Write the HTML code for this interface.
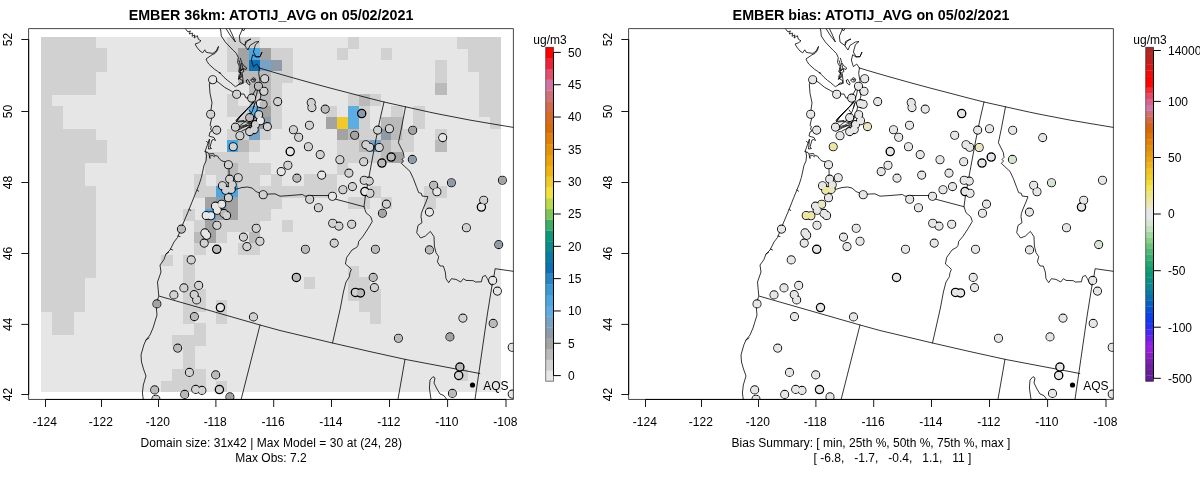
<!DOCTYPE html>
<html><head><meta charset="utf-8"><title>EMBER</title>
<style>
html,body{margin:0;padding:0;background:#fff;}
body{width:1200px;height:479px;overflow:hidden;font-family:"Liberation Sans",sans-serif;}
svg{display:block;will-change:transform;}
svg text{font-family:"Liberation Sans",sans-serif;font-size:12px;fill:#000;}
.ttl{font-size:14.3px;font-weight:bold;}
.map polyline{fill:none;stroke:#000;stroke-width:0.8;stroke-linejoin:round;stroke-linecap:round;}

</style></head><body>
<svg width="1200" height="479" viewBox="0 0 1200 479">
<defs>
<clipPath id="cl"><rect x="28.6" y="28.6" width="484.8" height="370.85"/></clipPath>
<clipPath id="cr"><rect x="628.6" y="28.6" width="484.8" height="370.85"/></clipPath>
</defs>
<rect x="0" y="0" width="1200" height="479" fill="#fff"/>
<!-- left panel -->
<g shape-rendering="crispEdges">
<rect x="41.0" y="37.0" width="460.00" height="355.00" fill="#e6e6e6"/>
<rect x="41.00" y="37.00" width="55.06" height="11.75" fill="#d1d1d1"/>
<rect x="227.19" y="37.00" width="33.16" height="11.75" fill="#d1d1d1"/>
<rect x="347.67" y="37.00" width="11.25" height="11.75" fill="#d1d1d1"/>
<rect x="457.19" y="37.00" width="43.81" height="11.75" fill="#d1d1d1"/>
<rect x="41.00" y="48.45" width="66.01" height="11.75" fill="#d1d1d1"/>
<rect x="227.19" y="48.45" width="11.25" height="11.75" fill="#d1d1d1"/>
<rect x="238.14" y="48.45" width="11.25" height="11.75" fill="#a3a3a3"/>
<rect x="249.10" y="48.45" width="11.25" height="11.75" fill="#4da6df"/>
<rect x="260.05" y="48.45" width="11.25" height="11.75" fill="#a3a3a3"/>
<rect x="271.00" y="48.45" width="22.20" height="11.75" fill="#d1d1d1"/>
<rect x="336.71" y="48.45" width="11.25" height="11.75" fill="#d1d1d1"/>
<rect x="380.52" y="48.45" width="11.25" height="11.75" fill="#d1d1d1"/>
<rect x="468.14" y="48.45" width="32.86" height="11.75" fill="#d1d1d1"/>
<rect x="41.00" y="59.90" width="66.01" height="11.75" fill="#d1d1d1"/>
<rect x="227.19" y="59.90" width="11.25" height="11.75" fill="#d1d1d1"/>
<rect x="238.14" y="59.90" width="11.25" height="11.75" fill="#a3a3a3"/>
<rect x="249.10" y="59.90" width="11.25" height="11.75" fill="#0b70b6"/>
<rect x="260.05" y="59.90" width="11.25" height="11.75" fill="#7aa2c4"/>
<rect x="271.00" y="59.90" width="11.25" height="11.75" fill="#8d9aa7"/>
<rect x="281.95" y="59.90" width="11.25" height="11.75" fill="#d1d1d1"/>
<rect x="435.29" y="59.90" width="11.25" height="11.75" fill="#d1d1d1"/>
<rect x="468.14" y="59.90" width="32.86" height="11.75" fill="#d1d1d1"/>
<rect x="41.00" y="71.35" width="55.06" height="11.75" fill="#d1d1d1"/>
<rect x="238.14" y="71.35" width="33.16" height="11.75" fill="#bababa"/>
<rect x="271.00" y="71.35" width="22.20" height="11.75" fill="#d1d1d1"/>
<rect x="435.29" y="71.35" width="11.25" height="11.75" fill="#d1d1d1"/>
<rect x="479.10" y="71.35" width="21.90" height="11.75" fill="#d1d1d1"/>
<rect x="41.00" y="82.81" width="55.06" height="11.75" fill="#d1d1d1"/>
<rect x="249.10" y="82.81" width="22.20" height="11.75" fill="#bababa"/>
<rect x="271.00" y="82.81" width="11.25" height="11.75" fill="#d1d1d1"/>
<rect x="435.29" y="82.81" width="11.25" height="11.75" fill="#bababa"/>
<rect x="479.10" y="82.81" width="21.90" height="11.75" fill="#d1d1d1"/>
<rect x="41.00" y="94.26" width="11.25" height="11.75" fill="#d1d1d1"/>
<rect x="227.19" y="94.26" width="11.25" height="11.75" fill="#d1d1d1"/>
<rect x="249.10" y="94.26" width="11.25" height="11.75" fill="#d1d1d1"/>
<rect x="260.05" y="94.26" width="11.25" height="11.75" fill="#bababa"/>
<rect x="271.00" y="94.26" width="11.25" height="11.75" fill="#d1d1d1"/>
<rect x="347.67" y="94.26" width="11.25" height="11.75" fill="#d1d1d1"/>
<rect x="358.62" y="94.26" width="11.25" height="11.75" fill="#bababa"/>
<rect x="369.57" y="94.26" width="11.25" height="11.75" fill="#d1d1d1"/>
<rect x="479.10" y="94.26" width="21.90" height="11.75" fill="#d1d1d1"/>
<rect x="41.00" y="105.71" width="22.20" height="11.75" fill="#d1d1d1"/>
<rect x="227.19" y="105.71" width="22.20" height="11.75" fill="#d1d1d1"/>
<rect x="249.10" y="105.71" width="11.25" height="11.75" fill="#5eade2"/>
<rect x="260.05" y="105.71" width="11.25" height="11.75" fill="#a3a3a3"/>
<rect x="271.00" y="105.71" width="11.25" height="11.75" fill="#d1d1d1"/>
<rect x="325.76" y="105.71" width="11.25" height="11.75" fill="#d1d1d1"/>
<rect x="347.67" y="105.71" width="11.25" height="11.75" fill="#5eade2"/>
<rect x="358.62" y="105.71" width="11.25" height="11.75" fill="#d1d1d1"/>
<rect x="391.48" y="105.71" width="11.25" height="11.75" fill="#d1d1d1"/>
<rect x="413.38" y="105.71" width="11.25" height="11.75" fill="#d1d1d1"/>
<rect x="479.10" y="105.71" width="21.90" height="11.75" fill="#d1d1d1"/>
<rect x="41.00" y="117.16" width="22.20" height="11.75" fill="#d1d1d1"/>
<rect x="238.14" y="117.16" width="11.25" height="11.75" fill="#d1d1d1"/>
<rect x="249.10" y="117.16" width="11.25" height="11.75" fill="#a3a3a3"/>
<rect x="260.05" y="117.16" width="11.25" height="11.75" fill="#8d9aa7"/>
<rect x="271.00" y="117.16" width="11.25" height="11.75" fill="#d1d1d1"/>
<rect x="325.76" y="117.16" width="11.25" height="11.75" fill="#a3a3a3"/>
<rect x="336.71" y="117.16" width="11.25" height="11.75" fill="#f0c92a"/>
<rect x="347.67" y="117.16" width="11.25" height="11.75" fill="#5eade2"/>
<rect x="358.62" y="117.16" width="11.25" height="11.75" fill="#d1d1d1"/>
<rect x="380.52" y="117.16" width="22.20" height="11.75" fill="#bababa"/>
<rect x="413.38" y="117.16" width="11.25" height="11.75" fill="#d1d1d1"/>
<rect x="490.05" y="117.16" width="10.95" height="11.75" fill="#d1d1d1"/>
<rect x="41.00" y="128.61" width="55.06" height="11.75" fill="#d1d1d1"/>
<rect x="227.19" y="128.61" width="22.20" height="11.75" fill="#d1d1d1"/>
<rect x="249.10" y="128.61" width="11.25" height="11.75" fill="#7aa2c4"/>
<rect x="260.05" y="128.61" width="11.25" height="11.75" fill="#d1d1d1"/>
<rect x="336.71" y="128.61" width="11.25" height="11.75" fill="#a3a3a3"/>
<rect x="347.67" y="128.61" width="11.25" height="11.75" fill="#bababa"/>
<rect x="358.62" y="128.61" width="22.20" height="11.75" fill="#d1d1d1"/>
<rect x="380.52" y="128.61" width="11.25" height="11.75" fill="#8d9aa7"/>
<rect x="391.48" y="128.61" width="11.25" height="11.75" fill="#bababa"/>
<rect x="402.43" y="128.61" width="11.25" height="11.75" fill="#d1d1d1"/>
<rect x="435.29" y="128.61" width="11.25" height="11.75" fill="#d1d1d1"/>
<rect x="41.00" y="140.06" width="66.01" height="11.75" fill="#d1d1d1"/>
<rect x="227.19" y="140.06" width="11.25" height="11.75" fill="#4da6df"/>
<rect x="238.14" y="140.06" width="11.25" height="11.75" fill="#bababa"/>
<rect x="249.10" y="140.06" width="11.25" height="11.75" fill="#d1d1d1"/>
<rect x="336.71" y="140.06" width="22.20" height="11.75" fill="#d1d1d1"/>
<rect x="358.62" y="140.06" width="11.25" height="11.75" fill="#bababa"/>
<rect x="369.57" y="140.06" width="11.25" height="11.75" fill="#7aa2c4"/>
<rect x="380.52" y="140.06" width="11.25" height="11.75" fill="#bababa"/>
<rect x="391.48" y="140.06" width="22.20" height="11.75" fill="#d1d1d1"/>
<rect x="435.29" y="140.06" width="11.25" height="11.75" fill="#bababa"/>
<rect x="41.00" y="151.52" width="66.01" height="11.75" fill="#d1d1d1"/>
<rect x="205.29" y="151.52" width="44.11" height="11.75" fill="#d1d1d1"/>
<rect x="336.71" y="151.52" width="44.11" height="11.75" fill="#d1d1d1"/>
<rect x="380.52" y="151.52" width="11.25" height="11.75" fill="#bababa"/>
<rect x="391.48" y="151.52" width="11.25" height="11.75" fill="#a3a3a3"/>
<rect x="41.00" y="162.97" width="44.11" height="11.75" fill="#d1d1d1"/>
<rect x="205.29" y="162.97" width="22.20" height="11.75" fill="#d1d1d1"/>
<rect x="227.19" y="162.97" width="11.25" height="11.75" fill="#bababa"/>
<rect x="238.14" y="162.97" width="33.16" height="11.75" fill="#d1d1d1"/>
<rect x="336.71" y="162.97" width="11.25" height="11.75" fill="#d1d1d1"/>
<rect x="41.00" y="174.42" width="44.11" height="11.75" fill="#d1d1d1"/>
<rect x="194.33" y="174.42" width="11.25" height="11.75" fill="#d1d1d1"/>
<rect x="216.24" y="174.42" width="11.25" height="11.75" fill="#d1d1d1"/>
<rect x="227.19" y="174.42" width="11.25" height="11.75" fill="#bababa"/>
<rect x="238.14" y="174.42" width="22.20" height="11.75" fill="#d1d1d1"/>
<rect x="271.00" y="174.42" width="11.25" height="11.75" fill="#d1d1d1"/>
<rect x="303.86" y="174.42" width="33.16" height="11.75" fill="#d1d1d1"/>
<rect x="41.00" y="185.87" width="55.06" height="11.75" fill="#d1d1d1"/>
<rect x="194.33" y="185.87" width="22.20" height="11.75" fill="#d1d1d1"/>
<rect x="216.24" y="185.87" width="22.20" height="11.75" fill="#4da6df"/>
<rect x="238.14" y="185.87" width="98.87" height="11.75" fill="#d1d1d1"/>
<rect x="369.57" y="185.87" width="11.25" height="11.75" fill="#d1d1d1"/>
<rect x="424.33" y="185.87" width="22.20" height="11.75" fill="#d1d1d1"/>
<rect x="41.00" y="197.32" width="55.06" height="11.75" fill="#d1d1d1"/>
<rect x="205.29" y="197.32" width="11.25" height="11.75" fill="#a3a3a3"/>
<rect x="216.24" y="197.32" width="11.25" height="11.75" fill="#8d9aa7"/>
<rect x="227.19" y="197.32" width="11.25" height="11.75" fill="#a3a3a3"/>
<rect x="238.14" y="197.32" width="44.11" height="11.75" fill="#d1d1d1"/>
<rect x="347.67" y="197.32" width="22.20" height="11.75" fill="#d1d1d1"/>
<rect x="380.52" y="197.32" width="11.25" height="11.75" fill="#d1d1d1"/>
<rect x="424.33" y="197.32" width="11.25" height="11.75" fill="#d1d1d1"/>
<rect x="41.00" y="208.77" width="55.06" height="11.75" fill="#d1d1d1"/>
<rect x="183.38" y="208.77" width="11.25" height="11.75" fill="#d1d1d1"/>
<rect x="205.29" y="208.77" width="11.25" height="11.75" fill="#4da6df"/>
<rect x="216.24" y="208.77" width="22.20" height="11.75" fill="#a3a3a3"/>
<rect x="238.14" y="208.77" width="33.16" height="11.75" fill="#d1d1d1"/>
<rect x="41.00" y="220.23" width="55.06" height="11.75" fill="#d1d1d1"/>
<rect x="194.33" y="220.23" width="11.25" height="11.75" fill="#d1d1d1"/>
<rect x="205.29" y="220.23" width="11.25" height="11.75" fill="#a3a3a3"/>
<rect x="216.24" y="220.23" width="44.11" height="11.75" fill="#d1d1d1"/>
<rect x="281.95" y="220.23" width="11.25" height="11.75" fill="#d1d1d1"/>
<rect x="41.00" y="231.68" width="55.06" height="11.75" fill="#d1d1d1"/>
<rect x="194.33" y="231.68" width="11.25" height="11.75" fill="#bababa"/>
<rect x="205.29" y="231.68" width="11.25" height="11.75" fill="#a3a3a3"/>
<rect x="216.24" y="231.68" width="11.25" height="11.75" fill="#d1d1d1"/>
<rect x="249.10" y="231.68" width="11.25" height="11.75" fill="#bababa"/>
<rect x="41.00" y="243.13" width="55.06" height="11.75" fill="#d1d1d1"/>
<rect x="194.33" y="243.13" width="11.25" height="11.75" fill="#d1d1d1"/>
<rect x="238.14" y="243.13" width="22.20" height="11.75" fill="#d1d1d1"/>
<rect x="41.00" y="254.58" width="55.06" height="11.75" fill="#d1d1d1"/>
<rect x="161.48" y="254.58" width="11.25" height="11.75" fill="#d1d1d1"/>
<rect x="183.38" y="254.58" width="11.25" height="11.75" fill="#d1d1d1"/>
<rect x="41.00" y="266.03" width="55.06" height="11.75" fill="#d1d1d1"/>
<rect x="183.38" y="266.03" width="11.25" height="11.75" fill="#d1d1d1"/>
<rect x="347.67" y="266.03" width="11.25" height="11.75" fill="#d1d1d1"/>
<rect x="41.00" y="277.48" width="44.11" height="11.75" fill="#d1d1d1"/>
<rect x="183.38" y="277.48" width="11.25" height="11.75" fill="#d1d1d1"/>
<rect x="303.86" y="277.48" width="11.25" height="11.75" fill="#d1d1d1"/>
<rect x="347.67" y="277.48" width="22.20" height="11.75" fill="#d1d1d1"/>
<rect x="41.00" y="288.94" width="44.11" height="11.75" fill="#d1d1d1"/>
<rect x="183.38" y="288.94" width="22.20" height="11.75" fill="#d1d1d1"/>
<rect x="347.67" y="288.94" width="33.16" height="11.75" fill="#d1d1d1"/>
<rect x="41.00" y="300.39" width="44.11" height="11.75" fill="#d1d1d1"/>
<rect x="183.38" y="300.39" width="22.20" height="11.75" fill="#d1d1d1"/>
<rect x="216.24" y="300.39" width="11.25" height="11.75" fill="#d1d1d1"/>
<rect x="358.62" y="300.39" width="22.20" height="11.75" fill="#d1d1d1"/>
<rect x="51.95" y="311.84" width="22.20" height="11.75" fill="#d1d1d1"/>
<rect x="183.38" y="311.84" width="11.25" height="11.75" fill="#d1d1d1"/>
<rect x="216.24" y="311.84" width="11.25" height="11.75" fill="#d1d1d1"/>
<rect x="369.57" y="311.84" width="11.25" height="11.75" fill="#d1d1d1"/>
<rect x="51.95" y="323.29" width="22.20" height="11.75" fill="#d1d1d1"/>
<rect x="194.33" y="323.29" width="11.25" height="11.75" fill="#d1d1d1"/>
<rect x="172.43" y="334.74" width="33.16" height="11.75" fill="#d1d1d1"/>
<rect x="183.38" y="346.19" width="11.25" height="11.75" fill="#d1d1d1"/>
<rect x="183.38" y="357.65" width="11.25" height="11.75" fill="#d1d1d1"/>
<rect x="172.43" y="369.10" width="33.16" height="11.75" fill="#d1d1d1"/>
<rect x="457.19" y="369.10" width="11.25" height="11.75" fill="#d1d1d1"/>
<rect x="161.48" y="380.55" width="44.11" height="11.45" fill="#d1d1d1"/>
<rect x="216.24" y="380.55" width="11.25" height="11.45" fill="#d1d1d1"/>
</g>
<g clip-path="url(#cl)">
<g class="map"><polyline points="259.4,68.0 275.0,72.7 290.0,77.0 310.0,82.6 330.0,88.0 350.0,93.2 367.0,97.7 384.0,102.0 405.5,106.8 429.8,112.2 440.0,114.3 455.0,117.2 470.0,120.1 490.0,123.5 514.0,127.5"/>
<polyline points="384.0,102.0 380.0,119.4 375.8,140.0 365.4,196.0"/>
<polyline points="228.0,164.5 229.0,169.4 229.2,178.0 230.0,184.0 232.0,188.5 236.2,189.2 242.0,187.5 247.5,187.0 252.0,188.0 256.0,191.5 262.8,194.5 270.0,194.0 275.0,193.8 280.0,196.2 290.0,195.5 302.5,194.5 305.0,196.2 312.0,195.5 330.0,195.5 333.0,197.0 336.0,199.3 364.0,206.7"/>
<polyline points="365.4,196.0 364.0,206.7 366.0,212.7 370.7,216.7 372.3,221.4 368.0,228.7 362.7,236.7 358.7,241.4 358.0,245.4 356.7,247.3 352.0,250.0 346.7,257.4 345.4,264.0 348.7,266.7 351.4,269.4 350.0,272.7 349.4,276.7 346.0,282.0 343.4,292.0 340.4,308.0 332.5,343.0"/>
<polyline points="405.5,106.8 401.5,127.9 398.4,142.7 403.4,152.7 404.0,157.4 402.0,159.4 403.6,161.0 401.3,163.3 410.0,171.4 413.4,178.7 416.7,187.4 418.7,192.7 421.4,193.4 422.0,196.0 428.0,196.7 426.0,202.0 423.4,208.0 421.4,213.4 421.0,216.7 422.0,222.7 418.0,225.4 416.7,232.7 420.7,238.0 425.4,236.0 430.4,231.4 434.0,236.7 434.4,246.0 436.0,252.7 438.7,256.7 437.4,261.8 440.0,266.0 443.3,266.0 445.3,272.0 446.0,278.7 448.7,282.7 451.4,278.7 456.0,279.4 460.7,282.0 463.4,278.7 466.0,280.4 473.4,280.7 475.4,282.0 481.4,281.8 482.7,276.7 485.4,275.4 487.4,278.7 490.0,284.0 492.0,285.4"/>
<polyline points="514.0,271.4 495.1,268.7 494.0,276.0 492.0,285.4 487.4,314.0 475.0,399.5"/>
<polyline points="159.5,296.2 200.0,307.8 260.0,325.0 280.0,330.5 332.5,343.0 370.0,351.6 405.3,359.4 479.8,373.5"/>
<polyline points="260.0,325.0 241.2,399.2"/>
<polyline points="405.0,359.2 398.0,399.2"/>
<polyline points="431.0,399.3 429.4,388.0 430.0,380.0 433.0,376.6 435.0,378.0 434.0,383.0 437.0,389.0 440.0,394.0 444.0,395.6 446.6,399.3"/>
<polyline points="212.7,79.6 209.3,84.0 210.0,93.4 212.0,102.7 210.4,114.0 211.5,119.0 210.0,125.5 211.5,126.5 210.5,129.0 212.0,131.0 210.0,132.0 209.0,136.0 212.0,137.0 214.0,137.5 215.5,140.5 213.5,139.5 212.0,140.0 210.0,147.0 211.5,148.5 208.5,149.0 209.5,139.0 207.0,146.0 205.0,151.5 206.0,152.0 206.5,156.0 206.0,161.0 204.0,165.4 201.4,177.4 199.3,184.0 193.8,197.5 188.0,212.0 182.5,225.0 177.5,237.5 174.0,242.0 170.0,250.0 166.0,254.0 163.8,259.8 160.0,265.0 161.0,272.0 157.5,282.0 158.8,296.2 156.0,304.0 157.0,315.0 153.0,328.0 150.0,335.0 146.0,340.0 143.8,345.0 141.0,355.0 141.5,362.0 143.5,369.0 146.0,376.0 143.3,385.0 142.4,393.0 143.3,399.5"/>
<polyline points="205.0,151.5 208.0,152.5 209.0,154.0 213.5,153.5 214.5,155.5 217.5,156.0 219.5,159.0 222.0,161.0 226.0,162.0 228.0,164.5"/>
<polyline points="209.0,154.5 210.0,158.5 209.6,156.0 212.5,155.5 214.5,156.8"/>
<polyline points="212.7,79.6 218.0,82.0 224.7,87.4 230.7,90.7 236.3,94.0 244.0,94.0 246.0,98.0 251.4,98.0 253.4,101.4 250.0,106.0 245.0,111.0 240.0,116.0 236.0,120.5"/>
<polyline points="248.0,108.0 243.0,113.5 239.0,118.0 236.7,121.0"/>
<polyline points="256.0,101.0 254.0,106.0 252.0,112.0 249.0,116.0 246.0,121.0 242.0,124.0 238.0,127.0"/>
<polyline points="258.0,104.0 257.0,110.0 255.0,116.0 253.0,121.0 250.0,126.0 246.0,129.0 242.0,131.0"/>
<polyline points="238.0,122.0 244.0,121.5 249.0,122.5 252.0,120.0"/>
<polyline points="240.0,128.0 246.0,125.5 251.0,126.0"/>
<polyline points="259.4,68.0 258.7,73.4 260.0,81.4 259.0,88.0 261.0,96.0 259.0,102.0"/>
<polyline points="185.3,28.5 188.0,32.0 190.4,30.9 189.3,34.0 192.7,33.1 192.0,36.3 195.0,34.9 194.0,38.0 197.4,35.7 198.3,39.2 201.0,40.8 198.7,42.7 195.1,44.0 196.7,47.0 200.0,51.0 202.7,52.8 204.8,49.8 206.2,52.3 208.8,52.8 212.8,53.4 216.0,51.2 218.5,46.4 217.5,50.4 215.0,53.4 212.0,54.8 206.0,59.0 207.1,61.4 208.7,64.0 212.0,67.0 214.7,69.4 217.7,71.4 220.1,73.4 219.5,72.1 221.4,74.5 224.1,77.4 227.4,80.3 230.7,82.7 233.4,85.1 235.4,86.7 238.7,84.7 242.1,83.7 242.8,80.7 239.5,78.7 238.7,76.1 240.7,73.4 239.8,70.7 242.8,69.4"/>
<polyline points="220.0,28.5 220.7,30.0 221.3,36.0 225.3,42.0 229.0,46.0 233.3,50.4 236.3,53.3 238.3,57.5 237.5,62.5 240.0,66.7 238.8,71.7 240.8,74.2 238.3,79.2 240.5,78.0 242.5,75.5 243.3,83.3 240.0,82.9 237.9,85.0"/>
<polyline points="240.4,58.3 241.7,62.5 243.8,65.8 246.7,67.9 245.8,69.6 243.3,68.3 243.8,71.7 241.7,72.5 242.5,75.0 240.4,76.7 238.8,79.2"/>
<polyline points="239.2,60.8 240.8,66.7 240.0,71.7 241.3,75.0"/>
<polyline points="241.5,63.5 242.6,67.2 241.5,70.5"/>
<polyline points="226.0,28.5 230.0,35.0 235.4,42.0 232.0,34.0 229.3,28.5"/>
<polyline points="242.7,28.5 239.4,36.0 240.0,42.0 244.7,45.4 246.5,42.0 248.7,40.0 251.0,39.0 245.5,41.5 245.0,46.0 248.0,50.0 250.0,45.4 255.4,42.0 259.0,41.5 255.4,44.7 253.4,52.0 256.0,56.7 260.0,56.7 262.0,52.0 260.0,56.7 256.0,57.0 252.7,54.7 251.4,60.0 252.5,64.0 253.4,66.7 256.7,64.0 259.4,68.0"/>
<polyline points="241.5,28.5 243.5,31.0 245.0,28.5"/>
<polyline points="246.3,80.8 247.5,79.2 250.0,83.3 249.6,85.0 247.1,83.3 246.3,80.8"/>
<polyline points="250.8,80.0 253.3,77.5 255.8,79.2 255.0,81.7 252.5,82.1 250.8,80.0"/>
<polyline points="252.8,79.4 254.3,79.0 254.0,80.6 252.8,79.4"/>
<polyline points="166.0,254.0 168.5,252.5"/>
<polyline points="146.0,340.0 149.0,338.0"/>
<polyline points="206.5,141.5 208.5,143.0"/>
<polyline points="254.3,101.8 251.0,105.5 246.0,110.5 241.0,115.5 236.5,120.0"/>
<polyline points="253.0,103.0 248.5,107.5 243.5,113.0 239.5,117.5 236.5,121.5"/>
<polyline points="236.5,121.5 240.0,121.0 244.0,120.5"/>
<polyline points="240.0,126.5 244.0,125.5 248.0,123.5 252.0,122.5"/>
<polyline points="238.5,130.0 243.0,127.5 247.0,126.0 250.5,123.5 253.5,123.0"/>
<polyline points="251.5,98.0 253.0,94.0 255.5,90.0 256.5,86.0"/>
<polyline points="255.0,99.0 256.5,95.0 257.5,90.0"/>
<polyline points="252.5,100.0 254.5,104.0 253.5,108.0"/>
<polyline points="249.0,110.0 251.0,112.5 250.0,115.0"/>
<polyline points="197.0,190.0 198.6,191.2"/>
<polyline points="189.0,209.5 190.8,210.4"/>
<polyline points="178.0,236.0 180.0,236.6"/>
<polyline points="170.5,249.0 172.5,250.0"/></g>
<g class="pts"><circle cx="212.7" cy="79.8" r="4.0" fill="none" stroke="#000" stroke-opacity="0.9" stroke-width="1.1"/>
<circle cx="236.7" cy="94.3" r="4.0" fill="none" stroke="#000" stroke-opacity="0.9" stroke-width="1.1"/>
<circle cx="210.7" cy="114.3" r="4.0" fill="none" stroke="#000" stroke-opacity="0.9" stroke-width="1.1"/>
<circle cx="264.7" cy="78.8" r="4.0" fill="none" stroke="#000" stroke-opacity="0.9" stroke-width="1.1"/>
<circle cx="258.4" cy="86.3" r="4.0" fill="none" stroke="#000" stroke-opacity="0.9" stroke-width="1.1"/>
<circle cx="263.9" cy="91.3" r="4.0" fill="none" stroke="#000" stroke-opacity="0.9" stroke-width="1.1"/>
<circle cx="251.7" cy="98.1" r="4.0" fill="none" stroke="#000" stroke-opacity="0.9" stroke-width="1.1"/>
<circle cx="260.4" cy="103.6" r="4.0" fill="none" stroke="#000" stroke-opacity="0.9" stroke-width="1.1"/>
<circle cx="263.1" cy="104.3" r="4.0" fill="none" stroke="#000" stroke-opacity="0.9" stroke-width="1.1"/>
<circle cx="277.7" cy="101.6" r="4.0" fill="none" stroke="#000" stroke-opacity="0.9" stroke-width="1.1"/>
<circle cx="258.7" cy="114.8" r="4.0" fill="none" stroke="#000" stroke-opacity="0.9" stroke-width="1.1"/>
<circle cx="249.7" cy="117.6" r="4.0" fill="none" stroke="#000" stroke-opacity="0.9" stroke-width="1.1"/>
<circle cx="260.4" cy="120.8" r="4.0" fill="none" stroke="#000" stroke-opacity="0.9" stroke-width="1.1"/>
<circle cx="255.4" cy="124.6" r="4.0" fill="none" stroke="#000" stroke-opacity="0.9" stroke-width="1.1"/>
<circle cx="235.4" cy="127.1" r="4.0" fill="none" stroke="#000" stroke-opacity="0.9" stroke-width="1.1"/>
<circle cx="216.7" cy="130.1" r="4.0" fill="none" stroke="#000" stroke-opacity="0.9" stroke-width="1.1"/>
<circle cx="249.7" cy="131.6" r="4.0" fill="none" stroke="#000" stroke-opacity="0.9" stroke-width="1.1"/>
<circle cx="254.2" cy="129.6" r="4.0" fill="none" stroke="#000" stroke-opacity="0.9" stroke-width="1.1"/>
<circle cx="239.9" cy="135.8" r="4.0" fill="none" stroke="#000" stroke-opacity="0.9" stroke-width="1.1"/>
<circle cx="267.4" cy="126.6" r="4.0" fill="none" stroke="#000" stroke-opacity="0.9" stroke-width="1.1"/>
<circle cx="233.2" cy="146.8" r="4.0" fill="none" stroke="#000" stroke-opacity="0.9" stroke-width="1.1"/>
<circle cx="311.2" cy="102.6" r="4.0" fill="none" stroke="#000" stroke-opacity="0.9" stroke-width="1.1"/>
<circle cx="311.9" cy="107.6" r="4.0" fill="none" stroke="#000" stroke-opacity="0.9" stroke-width="1.1"/>
<circle cx="325.2" cy="109.1" r="4.0" fill="none" stroke="#000" stroke-opacity="0.9" stroke-width="1.1"/>
<circle cx="361.7" cy="113.6" r="4.0" fill="none" stroke="#000" stroke-width="1.5"/>
<circle cx="309.4" cy="125.3" r="4.0" fill="none" stroke="#000" stroke-opacity="0.9" stroke-width="1.1"/>
<circle cx="293.4" cy="129.8" r="4.0" fill="none" stroke="#000" stroke-opacity="0.9" stroke-width="1.1"/>
<circle cx="298.7" cy="137.3" r="4.0" fill="none" stroke="#000" stroke-opacity="0.9" stroke-width="1.1"/>
<circle cx="308.4" cy="146.8" r="4.0" fill="none" stroke="#000" stroke-opacity="0.9" stroke-width="1.1"/>
<circle cx="354.7" cy="135.3" r="4.0" fill="none" stroke="#000" stroke-opacity="0.9" stroke-width="1.1"/>
<circle cx="377.7" cy="130.1" r="4.0" fill="none" stroke="#000" stroke-opacity="0.9" stroke-width="1.1"/>
<circle cx="389.4" cy="128.8" r="4.0" fill="none" stroke="#000" stroke-opacity="0.9" stroke-width="1.1"/>
<circle cx="412.7" cy="130.3" r="4.0" fill="none" stroke="#000" stroke-opacity="0.9" stroke-width="1.1"/>
<circle cx="365.9" cy="144.8" r="4.0" fill="none" stroke="#000" stroke-opacity="0.9" stroke-width="1.1"/>
<circle cx="369.7" cy="147.3" r="4.0" fill="none" stroke="#000" stroke-opacity="0.9" stroke-width="1.1"/>
<circle cx="379.2" cy="147.5" r="4.0" fill="none" stroke="#000" stroke-opacity="0.9" stroke-width="1.1"/>
<circle cx="442.7" cy="137.6" r="4.0" fill="none" stroke="#000" stroke-opacity="0.9" stroke-width="1.1"/>
<circle cx="228.4" cy="164.8" r="4.0" fill="none" stroke="#000" stroke-opacity="0.9" stroke-width="1.1"/>
<circle cx="238.2" cy="177.8" r="4.0" fill="none" stroke="#000" stroke-opacity="0.9" stroke-width="1.1"/>
<circle cx="229.7" cy="179.1" r="4.0" fill="none" stroke="#000" stroke-opacity="0.9" stroke-width="1.1"/>
<circle cx="222.4" cy="185.8" r="4.0" fill="none" stroke="#000" stroke-opacity="0.9" stroke-width="1.1"/>
<circle cx="232.2" cy="184.8" r="4.0" fill="none" stroke="#000" stroke-opacity="0.9" stroke-width="1.1"/>
<circle cx="231.2" cy="189.4" r="4.0" fill="none" stroke="#000" stroke-opacity="0.9" stroke-width="1.1"/>
<circle cx="225.7" cy="190.3" r="4.0" fill="none" stroke="#000" stroke-opacity="0.9" stroke-width="1.1"/>
<circle cx="228.4" cy="197.8" r="4.0" fill="none" stroke="#000" stroke-opacity="0.9" stroke-width="1.1"/>
<circle cx="263.2" cy="194.8" r="4.0" fill="none" stroke="#000" stroke-opacity="0.9" stroke-width="1.1"/>
<circle cx="290.2" cy="151.6" r="4.0" fill="none" stroke="#000" stroke-width="1.5"/>
<circle cx="287.9" cy="165.3" r="4.0" fill="none" stroke="#000" stroke-opacity="0.9" stroke-width="1.1"/>
<circle cx="281.2" cy="171.6" r="4.0" fill="none" stroke="#000" stroke-opacity="0.9" stroke-width="1.1"/>
<circle cx="221.7" cy="204.3" r="4.0" fill="none" stroke="#000" stroke-opacity="0.9" stroke-width="1.1"/>
<circle cx="215.4" cy="206.1" r="4.0" fill="none" stroke="#000" stroke-opacity="0.9" stroke-width="1.1"/>
<circle cx="217.2" cy="210.3" r="4.0" fill="none" stroke="#000" stroke-opacity="0.9" stroke-width="1.1"/>
<circle cx="223.9" cy="213.4" r="4.0" fill="none" stroke="#000" stroke-opacity="0.9" stroke-width="1.1"/>
<circle cx="226.6" cy="215.5" r="4.0" fill="none" stroke="#000" stroke-opacity="0.9" stroke-width="1.1"/>
<circle cx="206.2" cy="215.5" r="4.0" fill="none" stroke="#000" stroke-opacity="0.9" stroke-width="1.1"/>
<circle cx="210.8" cy="215.8" r="4.0" fill="none" stroke="#000" stroke-opacity="0.9" stroke-width="1.1"/>
<circle cx="216.9" cy="225.3" r="4.0" fill="none" stroke="#000" stroke-opacity="0.9" stroke-width="1.1"/>
<circle cx="256.2" cy="228.3" r="4.0" fill="none" stroke="#000" stroke-opacity="0.9" stroke-width="1.1"/>
<circle cx="181.4" cy="229.1" r="4.0" fill="none" stroke="#000" stroke-opacity="0.9" stroke-width="1.1"/>
<circle cx="204.9" cy="232.9" r="4.0" fill="none" stroke="#000" stroke-opacity="0.9" stroke-width="1.1"/>
<circle cx="206.7" cy="235.2" r="4.0" fill="none" stroke="#000" stroke-opacity="0.9" stroke-width="1.1"/>
<circle cx="243.4" cy="237.1" r="4.0" fill="none" stroke="#000" stroke-opacity="0.9" stroke-width="1.1"/>
<circle cx="259.9" cy="241.3" r="4.0" fill="none" stroke="#000" stroke-opacity="0.9" stroke-width="1.1"/>
<circle cx="204.2" cy="243.1" r="4.0" fill="none" stroke="#000" stroke-opacity="0.9" stroke-width="1.1"/>
<circle cx="246.9" cy="246.6" r="4.0" fill="none" stroke="#000" stroke-opacity="0.9" stroke-width="1.1"/>
<circle cx="216.7" cy="249.3" r="4.0" fill="none" stroke="#000" stroke-width="1.5"/>
<circle cx="191.2" cy="259.9" r="4.0" fill="none" stroke="#000" stroke-opacity="0.9" stroke-width="1.1"/>
<circle cx="320.2" cy="154.6" r="4.0" fill="none" stroke="#000" stroke-opacity="0.9" stroke-width="1.1"/>
<circle cx="296.9" cy="178.1" r="4.0" fill="none" stroke="#000" stroke-opacity="0.9" stroke-width="1.1"/>
<circle cx="321.7" cy="175.1" r="4.0" fill="none" stroke="#000" stroke-opacity="0.9" stroke-width="1.1"/>
<circle cx="339.9" cy="159.8" r="4.0" fill="none" stroke="#000" stroke-opacity="0.9" stroke-width="1.1"/>
<circle cx="348.9" cy="173.1" r="4.0" fill="none" stroke="#000" stroke-opacity="0.9" stroke-width="1.1"/>
<circle cx="352.4" cy="186.6" r="4.0" fill="none" stroke="#000" stroke-opacity="0.9" stroke-width="1.1"/>
<circle cx="342.9" cy="189.8" r="4.0" fill="none" stroke="#000" stroke-opacity="0.9" stroke-width="1.1"/>
<circle cx="332.4" cy="196.3" r="4.0" fill="none" stroke="#000" stroke-opacity="0.9" stroke-width="1.1"/>
<circle cx="309.7" cy="199.3" r="4.0" fill="none" stroke="#000" stroke-opacity="0.9" stroke-width="1.1"/>
<circle cx="318.4" cy="207.8" r="4.0" fill="none" stroke="#000" stroke-opacity="0.9" stroke-width="1.1"/>
<circle cx="332.7" cy="223.3" r="4.0" fill="none" stroke="#000" stroke-opacity="0.9" stroke-width="1.1"/>
<circle cx="338.9" cy="226.1" r="4.0" fill="none" stroke="#000" stroke-opacity="0.9" stroke-width="1.1"/>
<circle cx="351.7" cy="224.3" r="4.0" fill="none" stroke="#000" stroke-opacity="0.9" stroke-width="1.1"/>
<circle cx="334.2" cy="243.1" r="4.0" fill="none" stroke="#000" stroke-opacity="0.9" stroke-width="1.1"/>
<circle cx="305.4" cy="249.3" r="4.0" fill="none" stroke="#000" stroke-opacity="0.9" stroke-width="1.1"/>
<circle cx="363.7" cy="161.8" r="4.0" fill="none" stroke="#000" stroke-opacity="0.9" stroke-width="1.1"/>
<circle cx="381.9" cy="163.1" r="4.0" fill="none" stroke="#000" stroke-width="1.5"/>
<circle cx="391.2" cy="157.1" r="4.0" fill="none" stroke="#000" stroke-width="1.5"/>
<circle cx="412.3" cy="159.4" r="4.0" fill="none" stroke="#000" stroke-opacity="0.9" stroke-width="1.1"/>
<circle cx="364.2" cy="180.3" r="4.0" fill="none" stroke="#000" stroke-opacity="0.9" stroke-width="1.1"/>
<circle cx="369.2" cy="181.1" r="4.0" fill="none" stroke="#000" stroke-opacity="0.9" stroke-width="1.1"/>
<circle cx="364.9" cy="191.6" r="4.0" fill="none" stroke="#000" stroke-width="1.5"/>
<circle cx="369.9" cy="193.3" r="4.0" fill="none" stroke="#000" stroke-opacity="0.9" stroke-width="1.1"/>
<circle cx="386.4" cy="204.1" r="4.0" fill="none" stroke="#000" stroke-opacity="0.9" stroke-width="1.1"/>
<circle cx="382.4" cy="213.3" r="4.0" fill="none" stroke="#000" stroke-opacity="0.9" stroke-width="1.1"/>
<circle cx="375.4" cy="249.2" r="4.0" fill="none" stroke="#000" stroke-opacity="0.9" stroke-width="1.1"/>
<circle cx="429.4" cy="212.1" r="4.0" fill="none" stroke="#000" stroke-opacity="0.9" stroke-width="1.1"/>
<circle cx="429.4" cy="249.9" r="4.0" fill="none" stroke="#000" stroke-opacity="0.9" stroke-width="1.1"/>
<circle cx="433.7" cy="185.3" r="4.0" fill="none" stroke="#000" stroke-opacity="0.9" stroke-width="1.1"/>
<circle cx="436.9" cy="191.8" r="4.0" fill="none" stroke="#000" stroke-opacity="0.9" stroke-width="1.1"/>
<circle cx="451.4" cy="182.8" r="4.0" fill="none" stroke="#000" stroke-opacity="0.9" stroke-width="1.1"/>
<circle cx="502.4" cy="180.3" r="4.0" fill="none" stroke="#000" stroke-opacity="0.9" stroke-width="1.1"/>
<circle cx="483.7" cy="200.3" r="4.0" fill="none" stroke="#000" stroke-opacity="0.9" stroke-width="1.1"/>
<circle cx="481.4" cy="207.1" r="4.0" fill="none" stroke="#000" stroke-width="1.5"/>
<circle cx="466.4" cy="227.8" r="4.0" fill="none" stroke="#000" stroke-opacity="0.9" stroke-width="1.1"/>
<circle cx="498.7" cy="244.6" r="4.0" fill="none" stroke="#000" stroke-opacity="0.9" stroke-width="1.1"/>
<circle cx="198.7" cy="285.4" r="4.0" fill="none" stroke="#000" stroke-opacity="0.9" stroke-width="1.1"/>
<circle cx="183.9" cy="287.9" r="4.0" fill="none" stroke="#000" stroke-opacity="0.9" stroke-width="1.1"/>
<circle cx="173.9" cy="294.9" r="4.0" fill="none" stroke="#000" stroke-opacity="0.9" stroke-width="1.1"/>
<circle cx="194.2" cy="294.6" r="4.0" fill="none" stroke="#000" stroke-opacity="0.9" stroke-width="1.1"/>
<circle cx="196.7" cy="299.9" r="4.0" fill="none" stroke="#000" stroke-opacity="0.9" stroke-width="1.1"/>
<circle cx="156.9" cy="303.9" r="4.0" fill="none" stroke="#000" stroke-opacity="0.9" stroke-width="1.1"/>
<circle cx="220.4" cy="307.6" r="4.0" fill="none" stroke="#000" stroke-width="1.5"/>
<circle cx="194.4" cy="316.6" r="4.0" fill="none" stroke="#000" stroke-opacity="0.9" stroke-width="1.1"/>
<circle cx="253.4" cy="316.9" r="4.0" fill="none" stroke="#000" stroke-opacity="0.9" stroke-width="1.1"/>
<circle cx="177.7" cy="348.1" r="4.0" fill="none" stroke="#000" stroke-opacity="0.9" stroke-width="1.1"/>
<circle cx="296.4" cy="277.4" r="4.0" fill="none" stroke="#000" stroke-width="1.5"/>
<circle cx="373.2" cy="277.4" r="4.0" fill="none" stroke="#000" stroke-opacity="0.9" stroke-width="1.1"/>
<circle cx="374.4" cy="287.6" r="4.0" fill="none" stroke="#000" stroke-opacity="0.9" stroke-width="1.1"/>
<circle cx="355.4" cy="292.4" r="4.0" fill="none" stroke="#000" stroke-width="1.5"/>
<circle cx="360.4" cy="292.9" r="4.0" fill="none" stroke="#000" stroke-width="1.5"/>
<circle cx="398.4" cy="338.2" r="4.0" fill="none" stroke="#000" stroke-opacity="0.9" stroke-width="1.1"/>
<circle cx="492.7" cy="280.4" r="4.0" fill="none" stroke="#000" stroke-opacity="0.9" stroke-width="1.1"/>
<circle cx="497.4" cy="291.1" r="4.0" fill="none" stroke="#000" stroke-opacity="0.9" stroke-width="1.1"/>
<circle cx="462.9" cy="318.1" r="4.0" fill="none" stroke="#000" stroke-opacity="0.9" stroke-width="1.1"/>
<circle cx="493.2" cy="323.4" r="4.0" fill="none" stroke="#000" stroke-opacity="0.9" stroke-width="1.1"/>
<circle cx="449.9" cy="336.9" r="4.0" fill="none" stroke="#000" stroke-opacity="0.9" stroke-width="1.1"/>
<circle cx="512.2" cy="347.2" r="4.0" fill="none" stroke="#000" stroke-opacity="0.9" stroke-width="1.1"/>
<circle cx="459.9" cy="367.0" r="4.0" fill="none" stroke="#000" stroke-width="1.5"/>
<circle cx="458.7" cy="375.4" r="4.0" fill="none" stroke="#000" stroke-width="1.5"/>
<circle cx="452.4" cy="393.4" r="4.0" fill="none" stroke="#000" stroke-opacity="0.9" stroke-width="1.1"/>
<circle cx="512.2" cy="394.1" r="4.0" fill="none" stroke="#000" stroke-opacity="0.9" stroke-width="1.1"/>
<circle cx="189.4" cy="372.4" r="4.0" fill="none" stroke="#000" stroke-opacity="0.9" stroke-width="1.1"/>
<circle cx="215.7" cy="374.9" r="4.0" fill="none" stroke="#000" stroke-opacity="0.9" stroke-width="1.1"/>
<circle cx="154.7" cy="389.9" r="4.0" fill="none" stroke="#000" stroke-opacity="0.9" stroke-width="1.1"/>
<circle cx="195.7" cy="389.4" r="4.0" fill="none" stroke="#000" stroke-opacity="0.9" stroke-width="1.1"/>
<circle cx="201.9" cy="390.4" r="4.0" fill="none" stroke="#000" stroke-opacity="0.9" stroke-width="1.1"/>
<circle cx="219.4" cy="389.6" r="4.0" fill="none" stroke="#000" stroke-width="1.5"/>
<circle cx="184.7" cy="394.4" r="4.0" fill="none" stroke="#000" stroke-opacity="0.9" stroke-width="1.1"/>
<circle cx="155.9" cy="399.2" r="4.0" fill="none" stroke="#000" stroke-opacity="0.9" stroke-width="1.1"/>
<circle cx="229.9" cy="396.9" r="4.0" fill="none" stroke="#000" stroke-opacity="0.9" stroke-width="1.1"/>
<circle cx="212.7" cy="79.8" r="3.45" fill="#e6e6e6" stroke="none"/>
<circle cx="236.7" cy="94.3" r="3.45" fill="#d1d1d1" stroke="none"/>
<circle cx="210.7" cy="114.3" r="3.45" fill="#d1d1d1" stroke="none"/>
<circle cx="264.7" cy="78.8" r="3.45" fill="#d1d1d1" stroke="none"/>
<circle cx="258.4" cy="86.3" r="3.45" fill="#bababa" stroke="none"/>
<circle cx="263.9" cy="91.3" r="3.45" fill="#d1d1d1" stroke="none"/>
<circle cx="251.7" cy="98.1" r="3.45" fill="#d1d1d1" stroke="none"/>
<circle cx="260.4" cy="103.6" r="3.45" fill="#e6e6e6" stroke="none"/>
<circle cx="263.1" cy="104.3" r="3.45" fill="#bababa" stroke="none"/>
<circle cx="277.7" cy="101.6" r="3.45" fill="#d1d1d1" stroke="none"/>
<circle cx="258.7" cy="114.8" r="3.45" fill="#d1d1d1" stroke="none"/>
<circle cx="249.7" cy="117.6" r="3.45" fill="#bababa" stroke="none"/>
<circle cx="260.4" cy="120.8" r="3.45" fill="#e6e6e6" stroke="none"/>
<circle cx="255.4" cy="124.6" r="3.45" fill="#d1d1d1" stroke="none"/>
<circle cx="235.4" cy="127.1" r="3.45" fill="#d1d1d1" stroke="none"/>
<circle cx="216.7" cy="130.1" r="3.45" fill="#d1d1d1" stroke="none"/>
<circle cx="249.7" cy="131.6" r="3.45" fill="#d1d1d1" stroke="none"/>
<circle cx="254.2" cy="129.6" r="3.45" fill="#d1d1d1" stroke="none"/>
<circle cx="239.9" cy="135.8" r="3.45" fill="#d1d1d1" stroke="none"/>
<circle cx="267.4" cy="126.6" r="3.45" fill="#d1d1d1" stroke="none"/>
<circle cx="233.2" cy="146.8" r="3.45" fill="#d1d1d1" stroke="none"/>
<circle cx="311.2" cy="102.6" r="3.45" fill="#d1d1d1" stroke="none"/>
<circle cx="311.9" cy="107.6" r="3.45" fill="#d1d1d1" stroke="none"/>
<circle cx="325.2" cy="109.1" r="3.45" fill="#bababa" stroke="none"/>
<circle cx="361.7" cy="113.6" r="3.3" fill="#8d9aa7" stroke="none"/>
<circle cx="309.4" cy="125.3" r="3.45" fill="#d1d1d1" stroke="none"/>
<circle cx="293.4" cy="129.8" r="3.45" fill="#d1d1d1" stroke="none"/>
<circle cx="298.7" cy="137.3" r="3.45" fill="#d1d1d1" stroke="none"/>
<circle cx="308.4" cy="146.8" r="3.45" fill="#d1d1d1" stroke="none"/>
<circle cx="354.7" cy="135.3" r="3.45" fill="#a3a3a3" stroke="none"/>
<circle cx="377.7" cy="130.1" r="3.45" fill="#d1d1d1" stroke="none"/>
<circle cx="389.4" cy="128.8" r="3.45" fill="#d1d1d1" stroke="none"/>
<circle cx="412.7" cy="130.3" r="3.45" fill="#a3a3a3" stroke="none"/>
<circle cx="365.9" cy="144.8" r="3.45" fill="#d1d1d1" stroke="none"/>
<circle cx="369.7" cy="147.3" r="3.45" fill="#d1d1d1" stroke="none"/>
<circle cx="379.2" cy="147.5" r="3.45" fill="#d1d1d1" stroke="none"/>
<circle cx="442.7" cy="137.6" r="3.45" fill="#e6e6e6" stroke="none"/>
<circle cx="228.4" cy="164.8" r="3.45" fill="#d1d1d1" stroke="none"/>
<circle cx="238.2" cy="177.8" r="3.45" fill="#d1d1d1" stroke="none"/>
<circle cx="229.7" cy="179.1" r="3.45" fill="#d1d1d1" stroke="none"/>
<circle cx="222.4" cy="185.8" r="3.45" fill="#d1d1d1" stroke="none"/>
<circle cx="232.2" cy="184.8" r="3.45" fill="#d1d1d1" stroke="none"/>
<circle cx="231.2" cy="189.4" r="3.45" fill="#d1d1d1" stroke="none"/>
<circle cx="225.7" cy="190.3" r="3.45" fill="#d1d1d1" stroke="none"/>
<circle cx="228.4" cy="197.8" r="3.45" fill="#d1d1d1" stroke="none"/>
<circle cx="263.2" cy="194.8" r="3.45" fill="#d1d1d1" stroke="none"/>
<circle cx="290.2" cy="151.6" r="3.3" fill="#e6e6e6" stroke="none"/>
<circle cx="287.9" cy="165.3" r="3.45" fill="#d1d1d1" stroke="none"/>
<circle cx="281.2" cy="171.6" r="3.45" fill="#e6e6e6" stroke="none"/>
<circle cx="221.7" cy="204.3" r="3.45" fill="#e6e6e6" stroke="none"/>
<circle cx="215.4" cy="206.1" r="3.45" fill="#e6e6e6" stroke="none"/>
<circle cx="217.2" cy="210.3" r="3.45" fill="#e6e6e6" stroke="none"/>
<circle cx="223.9" cy="213.4" r="3.45" fill="#bababa" stroke="none"/>
<circle cx="226.6" cy="215.5" r="3.45" fill="#d1d1d1" stroke="none"/>
<circle cx="206.2" cy="215.5" r="3.45" fill="#e6e6e6" stroke="none"/>
<circle cx="210.8" cy="215.8" r="3.45" fill="#e6e6e6" stroke="none"/>
<circle cx="216.9" cy="225.3" r="3.45" fill="#d1d1d1" stroke="none"/>
<circle cx="256.2" cy="228.3" r="3.45" fill="#d1d1d1" stroke="none"/>
<circle cx="181.4" cy="229.1" r="3.45" fill="#bababa" stroke="none"/>
<circle cx="204.9" cy="232.9" r="3.45" fill="#e6e6e6" stroke="none"/>
<circle cx="206.7" cy="235.2" r="3.45" fill="#e6e6e6" stroke="none"/>
<circle cx="243.4" cy="237.1" r="3.45" fill="#d1d1d1" stroke="none"/>
<circle cx="259.9" cy="241.3" r="3.45" fill="#d1d1d1" stroke="none"/>
<circle cx="204.2" cy="243.1" r="3.45" fill="#d1d1d1" stroke="none"/>
<circle cx="246.9" cy="246.6" r="3.45" fill="#d1d1d1" stroke="none"/>
<circle cx="216.7" cy="249.3" r="3.3" fill="#bababa" stroke="none"/>
<circle cx="191.2" cy="259.9" r="3.45" fill="#d1d1d1" stroke="none"/>
<circle cx="320.2" cy="154.6" r="3.45" fill="#d1d1d1" stroke="none"/>
<circle cx="296.9" cy="178.1" r="3.45" fill="#bababa" stroke="none"/>
<circle cx="321.7" cy="175.1" r="3.45" fill="#e6e6e6" stroke="none"/>
<circle cx="339.9" cy="159.8" r="3.45" fill="#d1d1d1" stroke="none"/>
<circle cx="348.9" cy="173.1" r="3.45" fill="#d1d1d1" stroke="none"/>
<circle cx="352.4" cy="186.6" r="3.45" fill="#d1d1d1" stroke="none"/>
<circle cx="342.9" cy="189.8" r="3.45" fill="#d1d1d1" stroke="none"/>
<circle cx="332.4" cy="196.3" r="3.45" fill="#e6e6e6" stroke="none"/>
<circle cx="309.7" cy="199.3" r="3.45" fill="#d1d1d1" stroke="none"/>
<circle cx="318.4" cy="207.8" r="3.45" fill="#d1d1d1" stroke="none"/>
<circle cx="332.7" cy="223.3" r="3.45" fill="#d1d1d1" stroke="none"/>
<circle cx="338.9" cy="226.1" r="3.45" fill="#d1d1d1" stroke="none"/>
<circle cx="351.7" cy="224.3" r="3.45" fill="#d1d1d1" stroke="none"/>
<circle cx="334.2" cy="243.1" r="3.45" fill="#d1d1d1" stroke="none"/>
<circle cx="305.4" cy="249.3" r="3.45" fill="#bababa" stroke="none"/>
<circle cx="363.7" cy="161.8" r="3.45" fill="#d1d1d1" stroke="none"/>
<circle cx="381.9" cy="163.1" r="3.3" fill="#bababa" stroke="none"/>
<circle cx="391.2" cy="157.1" r="3.3" fill="#bababa" stroke="none"/>
<circle cx="412.3" cy="159.4" r="3.45" fill="#8d9aa7" stroke="none"/>
<circle cx="364.2" cy="180.3" r="3.45" fill="#d1d1d1" stroke="none"/>
<circle cx="369.2" cy="181.1" r="3.45" fill="#d1d1d1" stroke="none"/>
<circle cx="364.9" cy="191.6" r="3.3" fill="#e6e6e6" stroke="none"/>
<circle cx="369.9" cy="193.3" r="3.45" fill="#d1d1d1" stroke="none"/>
<circle cx="386.4" cy="204.1" r="3.45" fill="#d1d1d1" stroke="none"/>
<circle cx="382.4" cy="213.3" r="3.45" fill="#a3a3a3" stroke="none"/>
<circle cx="375.4" cy="249.2" r="3.45" fill="#bababa" stroke="none"/>
<circle cx="429.4" cy="212.1" r="3.45" fill="#e6e6e6" stroke="none"/>
<circle cx="429.4" cy="249.9" r="3.45" fill="#bababa" stroke="none"/>
<circle cx="433.7" cy="185.3" r="3.45" fill="#bababa" stroke="none"/>
<circle cx="436.9" cy="191.8" r="3.45" fill="#e6e6e6" stroke="none"/>
<circle cx="451.4" cy="182.8" r="3.45" fill="#8d9aa7" stroke="none"/>
<circle cx="502.4" cy="180.3" r="3.45" fill="#a3a3a3" stroke="none"/>
<circle cx="483.7" cy="200.3" r="3.45" fill="#d1d1d1" stroke="none"/>
<circle cx="481.4" cy="207.1" r="3.3" fill="#e6e6e6" stroke="none"/>
<circle cx="466.4" cy="227.8" r="3.45" fill="#d1d1d1" stroke="none"/>
<circle cx="498.7" cy="244.6" r="3.45" fill="#8d9aa7" stroke="none"/>
<circle cx="198.7" cy="285.4" r="3.45" fill="#d1d1d1" stroke="none"/>
<circle cx="183.9" cy="287.9" r="3.45" fill="#d1d1d1" stroke="none"/>
<circle cx="173.9" cy="294.9" r="3.45" fill="#d1d1d1" stroke="none"/>
<circle cx="194.2" cy="294.6" r="3.45" fill="#d1d1d1" stroke="none"/>
<circle cx="196.7" cy="299.9" r="3.45" fill="#d1d1d1" stroke="none"/>
<circle cx="156.9" cy="303.9" r="3.45" fill="#a3a3a3" stroke="none"/>
<circle cx="220.4" cy="307.6" r="3.3" fill="#e6e6e6" stroke="none"/>
<circle cx="194.4" cy="316.6" r="3.45" fill="#bababa" stroke="none"/>
<circle cx="253.4" cy="316.9" r="3.45" fill="#d1d1d1" stroke="none"/>
<circle cx="177.7" cy="348.1" r="3.45" fill="#bababa" stroke="none"/>
<circle cx="296.4" cy="277.4" r="3.3" fill="#bababa" stroke="none"/>
<circle cx="373.2" cy="277.4" r="3.45" fill="#bababa" stroke="none"/>
<circle cx="374.4" cy="287.6" r="3.45" fill="#d1d1d1" stroke="none"/>
<circle cx="355.4" cy="292.4" r="3.3" fill="#d1d1d1" stroke="none"/>
<circle cx="360.4" cy="292.9" r="3.3" fill="#bababa" stroke="none"/>
<circle cx="398.4" cy="338.2" r="3.45" fill="#bababa" stroke="none"/>
<circle cx="492.7" cy="280.4" r="3.45" fill="#e6e6e6" stroke="none"/>
<circle cx="497.4" cy="291.1" r="3.45" fill="#e6e6e6" stroke="none"/>
<circle cx="462.9" cy="318.1" r="3.45" fill="#d1d1d1" stroke="none"/>
<circle cx="493.2" cy="323.4" r="3.45" fill="#bababa" stroke="none"/>
<circle cx="449.9" cy="336.9" r="3.45" fill="#a3a3a3" stroke="none"/>
<circle cx="512.2" cy="347.2" r="3.45" fill="#e6e6e6" stroke="none"/>
<circle cx="459.9" cy="367.0" r="3.3" fill="#bababa" stroke="none"/>
<circle cx="458.7" cy="375.4" r="3.3" fill="#d1d1d1" stroke="none"/>
<circle cx="452.4" cy="393.4" r="3.45" fill="#bababa" stroke="none"/>
<circle cx="512.2" cy="394.1" r="3.45" fill="#e6e6e6" stroke="none"/>
<circle cx="189.4" cy="372.4" r="3.45" fill="#d1d1d1" stroke="none"/>
<circle cx="215.7" cy="374.9" r="3.45" fill="#bababa" stroke="none"/>
<circle cx="154.7" cy="389.9" r="3.45" fill="#bababa" stroke="none"/>
<circle cx="195.7" cy="389.4" r="3.45" fill="#d1d1d1" stroke="none"/>
<circle cx="201.9" cy="390.4" r="3.45" fill="#d1d1d1" stroke="none"/>
<circle cx="219.4" cy="389.6" r="3.3" fill="#d1d1d1" stroke="none"/>
<circle cx="184.7" cy="394.4" r="3.45" fill="#bababa" stroke="none"/>
<circle cx="155.9" cy="399.2" r="3.45" fill="#d1d1d1" stroke="none"/>
<circle cx="229.9" cy="396.9" r="3.45" fill="#a3a3a3" stroke="none"/></g>
</g>
<circle cx="472.5" cy="385" r="2.6" fill="#000"/>
<text x="483.2" y="390">AQS</text>
<rect x="28.6" y="28.6" width="484.8" height="370.85" fill="none" stroke="#000" stroke-opacity="0.72" stroke-width="1" stroke-linejoin="round"/>
<line x1="45.5" y1="399.45" x2="506" y2="399.45" stroke="#000"/>
<line x1="28.7" y1="39.5" x2="28.7" y2="394.5" stroke="#000"/>
<line x1="45.5" y1="399.45" x2="45.5" y2="407" stroke="#000" stroke-opacity="0.9"/>
<text x="44.8" y="425.8" text-anchor="middle">-124</text>
<line x1="101.5" y1="399.45" x2="101.5" y2="407" stroke="#000" stroke-opacity="0.9"/>
<text x="100.8" y="425.8" text-anchor="middle">-122</text>
<line x1="158.5" y1="399.45" x2="158.5" y2="407" stroke="#000" stroke-opacity="0.9"/>
<text x="157.8" y="425.8" text-anchor="middle">-120</text>
<line x1="215.9" y1="399.45" x2="215.9" y2="407" stroke="#000" stroke-opacity="0.9"/>
<text x="215.20000000000002" y="425.8" text-anchor="middle">-118</text>
<line x1="273.7" y1="399.45" x2="273.7" y2="407" stroke="#000" stroke-opacity="0.9"/>
<text x="273.0" y="425.8" text-anchor="middle">-116</text>
<line x1="331.5" y1="399.45" x2="331.5" y2="407" stroke="#000" stroke-opacity="0.9"/>
<text x="330.8" y="425.8" text-anchor="middle">-114</text>
<line x1="389.5" y1="399.45" x2="389.5" y2="407" stroke="#000" stroke-opacity="0.9"/>
<text x="388.8" y="425.8" text-anchor="middle">-112</text>
<line x1="447.6" y1="399.45" x2="447.6" y2="407" stroke="#000" stroke-opacity="0.9"/>
<text x="446.90000000000003" y="425.8" text-anchor="middle">-110</text>
<line x1="506" y1="399.45" x2="506" y2="407" stroke="#000" stroke-opacity="0.9"/>
<text x="505.3" y="425.8" text-anchor="middle">-108</text>
<line x1="21.3" y1="39.5" x2="28.6" y2="39.5" stroke="#000" stroke-opacity="0.9"/>
<text transform="translate(11.6,39.5) rotate(-90)" text-anchor="middle">52</text>
<line x1="21.3" y1="111.5" x2="28.6" y2="111.5" stroke="#000" stroke-opacity="0.9"/>
<text transform="translate(11.6,111.5) rotate(-90)" text-anchor="middle">50</text>
<line x1="21.3" y1="182.5" x2="28.6" y2="182.5" stroke="#000" stroke-opacity="0.9"/>
<text transform="translate(11.6,182.5) rotate(-90)" text-anchor="middle">48</text>
<line x1="21.3" y1="253.5" x2="28.6" y2="253.5" stroke="#000" stroke-opacity="0.9"/>
<text transform="translate(11.6,253.5) rotate(-90)" text-anchor="middle">46</text>
<line x1="21.3" y1="324.4" x2="28.6" y2="324.4" stroke="#000" stroke-opacity="0.9"/>
<text transform="translate(11.6,324.4) rotate(-90)" text-anchor="middle">44</text>
<line x1="21.3" y1="394.5" x2="28.6" y2="394.5" stroke="#000" stroke-opacity="0.9"/>
<text transform="translate(11.6,394.5) rotate(-90)" text-anchor="middle">42</text>
<rect x="545.7" y="370.43" width="7.8" height="11.02" fill="#e6e6e6"/>
<rect x="545.7" y="359.66" width="7.8" height="11.02" fill="#d1d1d1"/>
<rect x="545.7" y="348.89" width="7.8" height="11.02" fill="#bababa"/>
<rect x="545.7" y="338.12" width="7.8" height="11.02" fill="#a3a3a3"/>
<rect x="545.7" y="327.35" width="7.8" height="11.02" fill="#8d9aa7"/>
<rect x="545.7" y="316.57" width="7.8" height="11.02" fill="#7aa2c4"/>
<rect x="545.7" y="305.80" width="7.8" height="11.02" fill="#5eade2"/>
<rect x="545.7" y="295.03" width="7.8" height="11.02" fill="#4da6df"/>
<rect x="545.7" y="284.26" width="7.8" height="11.02" fill="#3a99d3"/>
<rect x="545.7" y="273.49" width="7.8" height="11.02" fill="#2486c7"/>
<rect x="545.7" y="262.72" width="7.8" height="11.02" fill="#0b70b6"/>
<rect x="545.7" y="251.95" width="7.8" height="11.02" fill="#0a7ba3"/>
<rect x="545.7" y="241.18" width="7.8" height="11.02" fill="#0a8b8c"/>
<rect x="545.7" y="230.41" width="7.8" height="11.02" fill="#0a9a79"/>
<rect x="545.7" y="219.64" width="7.8" height="11.02" fill="#3aad6b"/>
<rect x="545.7" y="208.86" width="7.8" height="11.02" fill="#7fc35b"/>
<rect x="545.7" y="198.09" width="7.8" height="11.02" fill="#bcd94c"/>
<rect x="545.7" y="187.32" width="7.8" height="11.02" fill="#f0e040"/>
<rect x="545.7" y="176.55" width="7.8" height="11.02" fill="#f0c92a"/>
<rect x="545.7" y="165.78" width="7.8" height="11.02" fill="#eeb412"/>
<rect x="545.7" y="155.01" width="7.8" height="11.02" fill="#eaa30a"/>
<rect x="545.7" y="144.24" width="7.8" height="11.02" fill="#e69209"/>
<rect x="545.7" y="133.47" width="7.8" height="11.02" fill="#e07f08"/>
<rect x="545.7" y="122.70" width="7.8" height="11.02" fill="#da6c08"/>
<rect x="545.7" y="111.93" width="7.8" height="11.02" fill="#d56b25"/>
<rect x="545.7" y="101.15" width="7.8" height="11.02" fill="#d26b4b"/>
<rect x="545.7" y="90.38" width="7.8" height="11.02" fill="#d07078"/>
<rect x="545.7" y="79.61" width="7.8" height="11.02" fill="#d072a2"/>
<rect x="545.7" y="68.84" width="7.8" height="11.02" fill="#e0506c"/>
<rect x="545.7" y="58.07" width="7.8" height="11.02" fill="#f0223a"/>
<rect x="545.7" y="47.30" width="7.8" height="11.02" fill="#ff0000"/>
<rect x="545.7" y="47.3" width="7.8" height="333.9" fill="none" stroke="#000" stroke-width="0.9" stroke-opacity="0.55"/>
<line x1="553.5" y1="52.4" x2="553.5" y2="375.6" stroke="#000" stroke-width="1"/>
<line x1="553.5" y1="52.4" x2="560.8" y2="52.4" stroke="#000"/>
<text x="568" y="56.699999999999996">50</text>
<line x1="553.5" y1="84.72" x2="560.8" y2="84.72" stroke="#000"/>
<text x="568" y="89.02">45</text>
<line x1="553.5" y1="117.04" x2="560.8" y2="117.04" stroke="#000"/>
<text x="568" y="121.34">40</text>
<line x1="553.5" y1="149.36" x2="560.8" y2="149.36" stroke="#000"/>
<text x="568" y="153.66000000000003">35</text>
<line x1="553.5" y1="181.68" x2="560.8" y2="181.68" stroke="#000"/>
<text x="568" y="185.98000000000002">30</text>
<line x1="553.5" y1="214.0" x2="560.8" y2="214.0" stroke="#000"/>
<text x="568" y="218.3">25</text>
<line x1="553.5" y1="246.32" x2="560.8" y2="246.32" stroke="#000"/>
<text x="568" y="250.62">20</text>
<line x1="553.5" y1="278.64" x2="560.8" y2="278.64" stroke="#000"/>
<text x="568" y="282.94">15</text>
<line x1="553.5" y1="310.96" x2="560.8" y2="310.96" stroke="#000"/>
<text x="568" y="315.26">10</text>
<line x1="553.5" y1="343.28" x2="560.8" y2="343.28" stroke="#000"/>
<text x="568" y="347.58">5</text>
<line x1="553.5" y1="375.6" x2="560.8" y2="375.6" stroke="#000"/>
<text x="568" y="379.90000000000003">0</text>
<text x="550" y="44.2" text-anchor="middle">ug/m3</text>
<text class="ttl" x="271" y="20" text-anchor="middle">EMBER 36km: ATOTIJ_AVG on 05/02/2021</text>
<text x="271.2" y="447.4" text-anchor="middle" textLength="261.5" lengthAdjust="spacing">Domain size: 31x42 | Max Model = 30 at (24, 28)</text>
<text x="271" y="461.7" text-anchor="middle">Max Obs: 7.2</text>
<!-- right panel -->
<g clip-path="url(#cr)">
<g class="map"><polyline points="859.4,68.0 875.0,72.7 890.0,77.0 910.0,82.6 930.0,88.0 950.0,93.2 967.0,97.7 984.0,102.0 1005.5,106.8 1029.8,112.2 1040.0,114.3 1055.0,117.2 1070.0,120.1 1090.0,123.5 1114.0,127.5"/>
<polyline points="984.0,102.0 980.0,119.4 975.8,140.0 965.4,196.0"/>
<polyline points="828.0,164.5 829.0,169.4 829.2,178.0 830.0,184.0 832.0,188.5 836.2,189.2 842.0,187.5 847.5,187.0 852.0,188.0 856.0,191.5 862.8,194.5 870.0,194.0 875.0,193.8 880.0,196.2 890.0,195.5 902.5,194.5 905.0,196.2 912.0,195.5 930.0,195.5 933.0,197.0 936.0,199.3 964.0,206.7"/>
<polyline points="965.4,196.0 964.0,206.7 966.0,212.7 970.7,216.7 972.3,221.4 968.0,228.7 962.7,236.7 958.7,241.4 958.0,245.4 956.7,247.3 952.0,250.0 946.7,257.4 945.4,264.0 948.7,266.7 951.4,269.4 950.0,272.7 949.4,276.7 946.0,282.0 943.4,292.0 940.4,308.0 932.5,343.0"/>
<polyline points="1005.5,106.8 1001.5,127.9 998.4,142.7 1003.4,152.7 1004.0,157.4 1002.0,159.4 1003.6,161.0 1001.3,163.3 1010.0,171.4 1013.4,178.7 1016.7,187.4 1018.7,192.7 1021.4,193.4 1022.0,196.0 1028.0,196.7 1026.0,202.0 1023.4,208.0 1021.4,213.4 1021.0,216.7 1022.0,222.7 1018.0,225.4 1016.7,232.7 1020.7,238.0 1025.4,236.0 1030.4,231.4 1034.0,236.7 1034.4,246.0 1036.0,252.7 1038.7,256.7 1037.4,261.8 1040.0,266.0 1043.3,266.0 1045.3,272.0 1046.0,278.7 1048.7,282.7 1051.4,278.7 1056.0,279.4 1060.7,282.0 1063.4,278.7 1066.0,280.4 1073.4,280.7 1075.4,282.0 1081.4,281.8 1082.7,276.7 1085.4,275.4 1087.4,278.7 1090.0,284.0 1092.0,285.4"/>
<polyline points="1114.0,271.4 1095.1,268.7 1094.0,276.0 1092.0,285.4 1087.4,314.0 1075.0,399.5"/>
<polyline points="759.5,296.2 800.0,307.8 860.0,325.0 880.0,330.5 932.5,343.0 970.0,351.6 1005.3,359.4 1079.8,373.5"/>
<polyline points="860.0,325.0 841.2,399.2"/>
<polyline points="1005.0,359.2 998.0,399.2"/>
<polyline points="1031.0,399.3 1029.4,388.0 1030.0,380.0 1033.0,376.6 1035.0,378.0 1034.0,383.0 1037.0,389.0 1040.0,394.0 1044.0,395.6 1046.6,399.3"/>
<polyline points="812.7,79.6 809.3,84.0 810.0,93.4 812.0,102.7 810.4,114.0 811.5,119.0 810.0,125.5 811.5,126.5 810.5,129.0 812.0,131.0 810.0,132.0 809.0,136.0 812.0,137.0 814.0,137.5 815.5,140.5 813.5,139.5 812.0,140.0 810.0,147.0 811.5,148.5 808.5,149.0 809.5,139.0 807.0,146.0 805.0,151.5 806.0,152.0 806.5,156.0 806.0,161.0 804.0,165.4 801.4,177.4 799.3,184.0 793.8,197.5 788.0,212.0 782.5,225.0 777.5,237.5 774.0,242.0 770.0,250.0 766.0,254.0 763.8,259.8 760.0,265.0 761.0,272.0 757.5,282.0 758.8,296.2 756.0,304.0 757.0,315.0 753.0,328.0 750.0,335.0 746.0,340.0 743.8,345.0 741.0,355.0 741.5,362.0 743.5,369.0 746.0,376.0 743.3,385.0 742.4,393.0 743.3,399.5"/>
<polyline points="805.0,151.5 808.0,152.5 809.0,154.0 813.5,153.5 814.5,155.5 817.5,156.0 819.5,159.0 822.0,161.0 826.0,162.0 828.0,164.5"/>
<polyline points="809.0,154.5 810.0,158.5 809.6,156.0 812.5,155.5 814.5,156.8"/>
<polyline points="812.7,79.6 818.0,82.0 824.7,87.4 830.7,90.7 836.3,94.0 844.0,94.0 846.0,98.0 851.4,98.0 853.4,101.4 850.0,106.0 845.0,111.0 840.0,116.0 836.0,120.5"/>
<polyline points="848.0,108.0 843.0,113.5 839.0,118.0 836.7,121.0"/>
<polyline points="856.0,101.0 854.0,106.0 852.0,112.0 849.0,116.0 846.0,121.0 842.0,124.0 838.0,127.0"/>
<polyline points="858.0,104.0 857.0,110.0 855.0,116.0 853.0,121.0 850.0,126.0 846.0,129.0 842.0,131.0"/>
<polyline points="838.0,122.0 844.0,121.5 849.0,122.5 852.0,120.0"/>
<polyline points="840.0,128.0 846.0,125.5 851.0,126.0"/>
<polyline points="859.4,68.0 858.7,73.4 860.0,81.4 859.0,88.0 861.0,96.0 859.0,102.0"/>
<polyline points="785.3,28.5 788.0,32.0 790.4,30.9 789.3,34.0 792.7,33.1 792.0,36.3 795.0,34.9 794.0,38.0 797.4,35.7 798.3,39.2 801.0,40.8 798.7,42.7 795.1,44.0 796.7,47.0 800.0,51.0 802.7,52.8 804.8,49.8 806.2,52.3 808.8,52.8 812.8,53.4 816.0,51.2 818.5,46.4 817.5,50.4 815.0,53.4 812.0,54.8 806.0,59.0 807.1,61.4 808.7,64.0 812.0,67.0 814.7,69.4 817.7,71.4 820.1,73.4 819.5,72.1 821.4,74.5 824.1,77.4 827.4,80.3 830.7,82.7 833.4,85.1 835.4,86.7 838.7,84.7 842.1,83.7 842.8,80.7 839.5,78.7 838.7,76.1 840.7,73.4 839.8,70.7 842.8,69.4"/>
<polyline points="820.0,28.5 820.7,30.0 821.3,36.0 825.3,42.0 829.0,46.0 833.3,50.4 836.3,53.3 838.3,57.5 837.5,62.5 840.0,66.7 838.8,71.7 840.8,74.2 838.3,79.2 840.5,78.0 842.5,75.5 843.3,83.3 840.0,82.9 837.9,85.0"/>
<polyline points="840.4,58.3 841.7,62.5 843.8,65.8 846.7,67.9 845.8,69.6 843.3,68.3 843.8,71.7 841.7,72.5 842.5,75.0 840.4,76.7 838.8,79.2"/>
<polyline points="839.2,60.8 840.8,66.7 840.0,71.7 841.3,75.0"/>
<polyline points="841.5,63.5 842.6,67.2 841.5,70.5"/>
<polyline points="826.0,28.5 830.0,35.0 835.4,42.0 832.0,34.0 829.3,28.5"/>
<polyline points="842.7,28.5 839.4,36.0 840.0,42.0 844.7,45.4 846.5,42.0 848.7,40.0 851.0,39.0 845.5,41.5 845.0,46.0 848.0,50.0 850.0,45.4 855.4,42.0 859.0,41.5 855.4,44.7 853.4,52.0 856.0,56.7 860.0,56.7 862.0,52.0 860.0,56.7 856.0,57.0 852.7,54.7 851.4,60.0 852.5,64.0 853.4,66.7 856.7,64.0 859.4,68.0"/>
<polyline points="841.5,28.5 843.5,31.0 845.0,28.5"/>
<polyline points="846.3,80.8 847.5,79.2 850.0,83.3 849.6,85.0 847.1,83.3 846.3,80.8"/>
<polyline points="850.8,80.0 853.3,77.5 855.8,79.2 855.0,81.7 852.5,82.1 850.8,80.0"/>
<polyline points="852.8,79.4 854.3,79.0 854.0,80.6 852.8,79.4"/>
<polyline points="766.0,254.0 768.5,252.5"/>
<polyline points="746.0,340.0 749.0,338.0"/>
<polyline points="806.5,141.5 808.5,143.0"/>
<polyline points="854.3,101.8 851.0,105.5 846.0,110.5 841.0,115.5 836.5,120.0"/>
<polyline points="853.0,103.0 848.5,107.5 843.5,113.0 839.5,117.5 836.5,121.5"/>
<polyline points="836.5,121.5 840.0,121.0 844.0,120.5"/>
<polyline points="840.0,126.5 844.0,125.5 848.0,123.5 852.0,122.5"/>
<polyline points="838.5,130.0 843.0,127.5 847.0,126.0 850.5,123.5 853.5,123.0"/>
<polyline points="851.5,98.0 853.0,94.0 855.5,90.0 856.5,86.0"/>
<polyline points="855.0,99.0 856.5,95.0 857.5,90.0"/>
<polyline points="852.5,100.0 854.5,104.0 853.5,108.0"/>
<polyline points="849.0,110.0 851.0,112.5 850.0,115.0"/>
<polyline points="797.0,190.0 798.6,191.2"/>
<polyline points="789.0,209.5 790.8,210.4"/>
<polyline points="778.0,236.0 780.0,236.6"/>
<polyline points="770.5,249.0 772.5,250.0"/></g>
<g class="pts"><circle cx="812.7" cy="79.8" r="4.0" fill="none" stroke="#000" stroke-opacity="0.9" stroke-width="1.1"/>
<circle cx="836.7" cy="94.3" r="4.0" fill="none" stroke="#000" stroke-opacity="0.9" stroke-width="1.1"/>
<circle cx="810.7" cy="114.3" r="4.0" fill="none" stroke="#000" stroke-opacity="0.9" stroke-width="1.1"/>
<circle cx="864.7" cy="78.8" r="4.0" fill="none" stroke="#000" stroke-opacity="0.9" stroke-width="1.1"/>
<circle cx="858.5" cy="86.3" r="4.0" fill="none" stroke="#000" stroke-opacity="0.9" stroke-width="1.1"/>
<circle cx="864.0" cy="91.3" r="4.0" fill="none" stroke="#000" stroke-opacity="0.9" stroke-width="1.1"/>
<circle cx="851.7" cy="98.1" r="4.0" fill="none" stroke="#000" stroke-opacity="0.9" stroke-width="1.1"/>
<circle cx="860.5" cy="103.6" r="4.0" fill="none" stroke="#000" stroke-opacity="0.9" stroke-width="1.1"/>
<circle cx="863.1" cy="104.3" r="4.0" fill="none" stroke="#000" stroke-opacity="0.9" stroke-width="1.1"/>
<circle cx="877.7" cy="101.6" r="4.0" fill="none" stroke="#000" stroke-opacity="0.9" stroke-width="1.1"/>
<circle cx="858.7" cy="114.8" r="4.0" fill="none" stroke="#000" stroke-opacity="0.9" stroke-width="1.1"/>
<circle cx="849.7" cy="117.6" r="4.0" fill="none" stroke="#000" stroke-opacity="0.9" stroke-width="1.1"/>
<circle cx="860.5" cy="120.8" r="4.0" fill="none" stroke="#000" stroke-opacity="0.9" stroke-width="1.1"/>
<circle cx="855.5" cy="124.6" r="4.0" fill="none" stroke="#000" stroke-opacity="0.9" stroke-width="1.1"/>
<circle cx="835.5" cy="127.1" r="4.0" fill="none" stroke="#000" stroke-opacity="0.9" stroke-width="1.1"/>
<circle cx="816.7" cy="130.1" r="4.0" fill="none" stroke="#000" stroke-opacity="0.9" stroke-width="1.1"/>
<circle cx="849.7" cy="131.6" r="4.0" fill="none" stroke="#000" stroke-opacity="0.9" stroke-width="1.1"/>
<circle cx="854.2" cy="129.6" r="4.0" fill="none" stroke="#000" stroke-opacity="0.9" stroke-width="1.1"/>
<circle cx="840.0" cy="135.8" r="4.0" fill="none" stroke="#000" stroke-opacity="0.9" stroke-width="1.1"/>
<circle cx="867.5" cy="126.6" r="4.0" fill="none" stroke="#000" stroke-opacity="0.9" stroke-width="1.1"/>
<circle cx="833.2" cy="146.8" r="4.0" fill="none" stroke="#000" stroke-opacity="0.9" stroke-width="1.1"/>
<circle cx="911.2" cy="102.6" r="4.0" fill="none" stroke="#000" stroke-opacity="0.9" stroke-width="1.1"/>
<circle cx="912.0" cy="107.6" r="4.0" fill="none" stroke="#000" stroke-opacity="0.9" stroke-width="1.1"/>
<circle cx="925.2" cy="109.1" r="4.0" fill="none" stroke="#000" stroke-opacity="0.9" stroke-width="1.1"/>
<circle cx="961.7" cy="113.6" r="4.0" fill="none" stroke="#000" stroke-width="1.5"/>
<circle cx="909.5" cy="125.3" r="4.0" fill="none" stroke="#000" stroke-opacity="0.9" stroke-width="1.1"/>
<circle cx="893.5" cy="129.8" r="4.0" fill="none" stroke="#000" stroke-opacity="0.9" stroke-width="1.1"/>
<circle cx="898.7" cy="137.3" r="4.0" fill="none" stroke="#000" stroke-opacity="0.9" stroke-width="1.1"/>
<circle cx="908.5" cy="146.8" r="4.0" fill="none" stroke="#000" stroke-opacity="0.9" stroke-width="1.1"/>
<circle cx="954.7" cy="135.3" r="4.0" fill="none" stroke="#000" stroke-opacity="0.9" stroke-width="1.1"/>
<circle cx="977.7" cy="130.1" r="4.0" fill="none" stroke="#000" stroke-opacity="0.9" stroke-width="1.1"/>
<circle cx="989.5" cy="128.8" r="4.0" fill="none" stroke="#000" stroke-opacity="0.9" stroke-width="1.1"/>
<circle cx="1012.7" cy="130.3" r="4.0" fill="none" stroke="#000" stroke-opacity="0.9" stroke-width="1.1"/>
<circle cx="966.0" cy="144.8" r="4.0" fill="none" stroke="#000" stroke-opacity="0.9" stroke-width="1.1"/>
<circle cx="969.7" cy="147.3" r="4.0" fill="none" stroke="#000" stroke-opacity="0.9" stroke-width="1.1"/>
<circle cx="979.2" cy="147.5" r="4.0" fill="none" stroke="#000" stroke-opacity="0.9" stroke-width="1.1"/>
<circle cx="1042.7" cy="137.6" r="4.0" fill="none" stroke="#000" stroke-opacity="0.9" stroke-width="1.1"/>
<circle cx="828.5" cy="164.8" r="4.0" fill="none" stroke="#000" stroke-opacity="0.9" stroke-width="1.1"/>
<circle cx="838.2" cy="177.8" r="4.0" fill="none" stroke="#000" stroke-opacity="0.9" stroke-width="1.1"/>
<circle cx="829.7" cy="179.1" r="4.0" fill="none" stroke="#000" stroke-opacity="0.9" stroke-width="1.1"/>
<circle cx="822.5" cy="185.8" r="4.0" fill="none" stroke="#000" stroke-opacity="0.9" stroke-width="1.1"/>
<circle cx="832.2" cy="184.8" r="4.0" fill="none" stroke="#000" stroke-opacity="0.9" stroke-width="1.1"/>
<circle cx="831.2" cy="189.4" r="4.0" fill="none" stroke="#000" stroke-opacity="0.9" stroke-width="1.1"/>
<circle cx="825.7" cy="190.3" r="4.0" fill="none" stroke="#000" stroke-opacity="0.9" stroke-width="1.1"/>
<circle cx="828.5" cy="197.8" r="4.0" fill="none" stroke="#000" stroke-opacity="0.9" stroke-width="1.1"/>
<circle cx="863.2" cy="194.8" r="4.0" fill="none" stroke="#000" stroke-opacity="0.9" stroke-width="1.1"/>
<circle cx="890.2" cy="151.6" r="4.0" fill="none" stroke="#000" stroke-width="1.5"/>
<circle cx="888.0" cy="165.3" r="4.0" fill="none" stroke="#000" stroke-opacity="0.9" stroke-width="1.1"/>
<circle cx="881.2" cy="171.6" r="4.0" fill="none" stroke="#000" stroke-opacity="0.9" stroke-width="1.1"/>
<circle cx="821.7" cy="204.3" r="4.0" fill="none" stroke="#000" stroke-opacity="0.9" stroke-width="1.1"/>
<circle cx="815.5" cy="206.1" r="4.0" fill="none" stroke="#000" stroke-opacity="0.9" stroke-width="1.1"/>
<circle cx="817.2" cy="210.3" r="4.0" fill="none" stroke="#000" stroke-opacity="0.9" stroke-width="1.1"/>
<circle cx="824.0" cy="213.4" r="4.0" fill="none" stroke="#000" stroke-opacity="0.9" stroke-width="1.1"/>
<circle cx="826.6" cy="215.5" r="4.0" fill="none" stroke="#000" stroke-opacity="0.9" stroke-width="1.1"/>
<circle cx="806.2" cy="215.5" r="4.0" fill="none" stroke="#000" stroke-opacity="0.9" stroke-width="1.1"/>
<circle cx="810.9" cy="215.8" r="4.0" fill="none" stroke="#000" stroke-opacity="0.9" stroke-width="1.1"/>
<circle cx="817.0" cy="225.3" r="4.0" fill="none" stroke="#000" stroke-opacity="0.9" stroke-width="1.1"/>
<circle cx="856.2" cy="228.3" r="4.0" fill="none" stroke="#000" stroke-opacity="0.9" stroke-width="1.1"/>
<circle cx="781.5" cy="229.1" r="4.0" fill="none" stroke="#000" stroke-opacity="0.9" stroke-width="1.1"/>
<circle cx="805.0" cy="232.9" r="4.0" fill="none" stroke="#000" stroke-opacity="0.9" stroke-width="1.1"/>
<circle cx="806.7" cy="235.2" r="4.0" fill="none" stroke="#000" stroke-opacity="0.9" stroke-width="1.1"/>
<circle cx="843.5" cy="237.1" r="4.0" fill="none" stroke="#000" stroke-opacity="0.9" stroke-width="1.1"/>
<circle cx="860.0" cy="241.3" r="4.0" fill="none" stroke="#000" stroke-opacity="0.9" stroke-width="1.1"/>
<circle cx="804.2" cy="243.1" r="4.0" fill="none" stroke="#000" stroke-opacity="0.9" stroke-width="1.1"/>
<circle cx="847.0" cy="246.6" r="4.0" fill="none" stroke="#000" stroke-opacity="0.9" stroke-width="1.1"/>
<circle cx="816.7" cy="249.3" r="4.0" fill="none" stroke="#000" stroke-width="1.5"/>
<circle cx="791.2" cy="259.9" r="4.0" fill="none" stroke="#000" stroke-opacity="0.9" stroke-width="1.1"/>
<circle cx="920.2" cy="154.6" r="4.0" fill="none" stroke="#000" stroke-opacity="0.9" stroke-width="1.1"/>
<circle cx="897.0" cy="178.1" r="4.0" fill="none" stroke="#000" stroke-opacity="0.9" stroke-width="1.1"/>
<circle cx="921.7" cy="175.1" r="4.0" fill="none" stroke="#000" stroke-opacity="0.9" stroke-width="1.1"/>
<circle cx="940.0" cy="159.8" r="4.0" fill="none" stroke="#000" stroke-opacity="0.9" stroke-width="1.1"/>
<circle cx="949.0" cy="173.1" r="4.0" fill="none" stroke="#000" stroke-opacity="0.9" stroke-width="1.1"/>
<circle cx="952.5" cy="186.6" r="4.0" fill="none" stroke="#000" stroke-opacity="0.9" stroke-width="1.1"/>
<circle cx="943.0" cy="189.8" r="4.0" fill="none" stroke="#000" stroke-opacity="0.9" stroke-width="1.1"/>
<circle cx="932.5" cy="196.3" r="4.0" fill="none" stroke="#000" stroke-opacity="0.9" stroke-width="1.1"/>
<circle cx="909.7" cy="199.3" r="4.0" fill="none" stroke="#000" stroke-opacity="0.9" stroke-width="1.1"/>
<circle cx="918.5" cy="207.8" r="4.0" fill="none" stroke="#000" stroke-opacity="0.9" stroke-width="1.1"/>
<circle cx="932.7" cy="223.3" r="4.0" fill="none" stroke="#000" stroke-opacity="0.9" stroke-width="1.1"/>
<circle cx="939.0" cy="226.1" r="4.0" fill="none" stroke="#000" stroke-opacity="0.9" stroke-width="1.1"/>
<circle cx="951.7" cy="224.3" r="4.0" fill="none" stroke="#000" stroke-opacity="0.9" stroke-width="1.1"/>
<circle cx="934.2" cy="243.1" r="4.0" fill="none" stroke="#000" stroke-opacity="0.9" stroke-width="1.1"/>
<circle cx="905.5" cy="249.3" r="4.0" fill="none" stroke="#000" stroke-opacity="0.9" stroke-width="1.1"/>
<circle cx="963.7" cy="161.8" r="4.0" fill="none" stroke="#000" stroke-opacity="0.9" stroke-width="1.1"/>
<circle cx="982.0" cy="163.1" r="4.0" fill="none" stroke="#000" stroke-width="1.5"/>
<circle cx="991.2" cy="157.1" r="4.0" fill="none" stroke="#000" stroke-width="1.5"/>
<circle cx="1012.4" cy="159.4" r="4.0" fill="none" stroke="#000" stroke-opacity="0.9" stroke-width="1.1"/>
<circle cx="964.2" cy="180.3" r="4.0" fill="none" stroke="#000" stroke-opacity="0.9" stroke-width="1.1"/>
<circle cx="969.2" cy="181.1" r="4.0" fill="none" stroke="#000" stroke-opacity="0.9" stroke-width="1.1"/>
<circle cx="965.0" cy="191.6" r="4.0" fill="none" stroke="#000" stroke-width="1.5"/>
<circle cx="970.0" cy="193.3" r="4.0" fill="none" stroke="#000" stroke-opacity="0.9" stroke-width="1.1"/>
<circle cx="986.5" cy="204.1" r="4.0" fill="none" stroke="#000" stroke-opacity="0.9" stroke-width="1.1"/>
<circle cx="982.5" cy="213.3" r="4.0" fill="none" stroke="#000" stroke-opacity="0.9" stroke-width="1.1"/>
<circle cx="975.5" cy="249.2" r="4.0" fill="none" stroke="#000" stroke-opacity="0.9" stroke-width="1.1"/>
<circle cx="1029.4" cy="212.1" r="4.0" fill="none" stroke="#000" stroke-opacity="0.9" stroke-width="1.1"/>
<circle cx="1029.5" cy="249.9" r="4.0" fill="none" stroke="#000" stroke-opacity="0.9" stroke-width="1.1"/>
<circle cx="1033.7" cy="185.3" r="4.0" fill="none" stroke="#000" stroke-opacity="0.9" stroke-width="1.1"/>
<circle cx="1037.0" cy="191.8" r="4.0" fill="none" stroke="#000" stroke-opacity="0.9" stroke-width="1.1"/>
<circle cx="1051.5" cy="182.8" r="4.0" fill="none" stroke="#000" stroke-opacity="0.9" stroke-width="1.1"/>
<circle cx="1102.5" cy="180.3" r="4.0" fill="none" stroke="#000" stroke-opacity="0.9" stroke-width="1.1"/>
<circle cx="1083.7" cy="200.3" r="4.0" fill="none" stroke="#000" stroke-opacity="0.9" stroke-width="1.1"/>
<circle cx="1081.5" cy="207.1" r="4.0" fill="none" stroke="#000" stroke-width="1.5"/>
<circle cx="1066.5" cy="227.8" r="4.0" fill="none" stroke="#000" stroke-opacity="0.9" stroke-width="1.1"/>
<circle cx="1098.7" cy="244.6" r="4.0" fill="none" stroke="#000" stroke-opacity="0.9" stroke-width="1.1"/>
<circle cx="798.7" cy="285.4" r="4.0" fill="none" stroke="#000" stroke-opacity="0.9" stroke-width="1.1"/>
<circle cx="784.0" cy="287.9" r="4.0" fill="none" stroke="#000" stroke-opacity="0.9" stroke-width="1.1"/>
<circle cx="774.0" cy="294.9" r="4.0" fill="none" stroke="#000" stroke-opacity="0.9" stroke-width="1.1"/>
<circle cx="794.2" cy="294.6" r="4.0" fill="none" stroke="#000" stroke-opacity="0.9" stroke-width="1.1"/>
<circle cx="796.7" cy="299.9" r="4.0" fill="none" stroke="#000" stroke-opacity="0.9" stroke-width="1.1"/>
<circle cx="757.0" cy="303.9" r="4.0" fill="none" stroke="#000" stroke-opacity="0.9" stroke-width="1.1"/>
<circle cx="820.5" cy="307.6" r="4.0" fill="none" stroke="#000" stroke-width="1.5"/>
<circle cx="794.5" cy="316.6" r="4.0" fill="none" stroke="#000" stroke-opacity="0.9" stroke-width="1.1"/>
<circle cx="853.5" cy="316.9" r="4.0" fill="none" stroke="#000" stroke-opacity="0.9" stroke-width="1.1"/>
<circle cx="777.7" cy="348.1" r="4.0" fill="none" stroke="#000" stroke-opacity="0.9" stroke-width="1.1"/>
<circle cx="896.5" cy="277.4" r="4.0" fill="none" stroke="#000" stroke-width="1.5"/>
<circle cx="973.2" cy="277.4" r="4.0" fill="none" stroke="#000" stroke-opacity="0.9" stroke-width="1.1"/>
<circle cx="974.5" cy="287.6" r="4.0" fill="none" stroke="#000" stroke-opacity="0.9" stroke-width="1.1"/>
<circle cx="955.5" cy="292.4" r="4.0" fill="none" stroke="#000" stroke-width="1.5"/>
<circle cx="960.5" cy="292.9" r="4.0" fill="none" stroke="#000" stroke-width="1.5"/>
<circle cx="998.5" cy="338.2" r="4.0" fill="none" stroke="#000" stroke-opacity="0.9" stroke-width="1.1"/>
<circle cx="1092.7" cy="280.4" r="4.0" fill="none" stroke="#000" stroke-opacity="0.9" stroke-width="1.1"/>
<circle cx="1097.5" cy="291.1" r="4.0" fill="none" stroke="#000" stroke-opacity="0.9" stroke-width="1.1"/>
<circle cx="1063.0" cy="318.1" r="4.0" fill="none" stroke="#000" stroke-opacity="0.9" stroke-width="1.1"/>
<circle cx="1093.2" cy="323.4" r="4.0" fill="none" stroke="#000" stroke-opacity="0.9" stroke-width="1.1"/>
<circle cx="1050.0" cy="336.9" r="4.0" fill="none" stroke="#000" stroke-opacity="0.9" stroke-width="1.1"/>
<circle cx="1112.2" cy="347.2" r="4.0" fill="none" stroke="#000" stroke-opacity="0.9" stroke-width="1.1"/>
<circle cx="1059.9" cy="367.0" r="4.0" fill="none" stroke="#000" stroke-width="1.5"/>
<circle cx="1058.7" cy="375.4" r="4.0" fill="none" stroke="#000" stroke-width="1.5"/>
<circle cx="1052.5" cy="393.4" r="4.0" fill="none" stroke="#000" stroke-opacity="0.9" stroke-width="1.1"/>
<circle cx="1112.2" cy="394.1" r="4.0" fill="none" stroke="#000" stroke-opacity="0.9" stroke-width="1.1"/>
<circle cx="789.5" cy="372.4" r="4.0" fill="none" stroke="#000" stroke-opacity="0.9" stroke-width="1.1"/>
<circle cx="815.7" cy="374.9" r="4.0" fill="none" stroke="#000" stroke-opacity="0.9" stroke-width="1.1"/>
<circle cx="754.7" cy="389.9" r="4.0" fill="none" stroke="#000" stroke-opacity="0.9" stroke-width="1.1"/>
<circle cx="795.7" cy="389.4" r="4.0" fill="none" stroke="#000" stroke-opacity="0.9" stroke-width="1.1"/>
<circle cx="802.0" cy="390.4" r="4.0" fill="none" stroke="#000" stroke-opacity="0.9" stroke-width="1.1"/>
<circle cx="819.5" cy="389.6" r="4.0" fill="none" stroke="#000" stroke-width="1.5"/>
<circle cx="784.7" cy="394.4" r="4.0" fill="none" stroke="#000" stroke-opacity="0.9" stroke-width="1.1"/>
<circle cx="756.0" cy="399.2" r="4.0" fill="none" stroke="#000" stroke-opacity="0.9" stroke-width="1.1"/>
<circle cx="830.0" cy="396.9" r="4.0" fill="none" stroke="#000" stroke-opacity="0.9" stroke-width="1.1"/>
<circle cx="812.7" cy="79.8" r="3.45" fill="#e6e6e6" stroke="none"/>
<circle cx="836.7" cy="94.3" r="3.45" fill="#e6e6e6" stroke="none"/>
<circle cx="810.7" cy="114.3" r="3.45" fill="#e6e6e6" stroke="none"/>
<circle cx="864.7" cy="78.8" r="3.45" fill="#e6e6e6" stroke="none"/>
<circle cx="858.5" cy="86.3" r="3.45" fill="#e6e6e6" stroke="none"/>
<circle cx="864.0" cy="91.3" r="3.45" fill="#e6e6e6" stroke="none"/>
<circle cx="851.7" cy="98.1" r="3.45" fill="#e6e6e6" stroke="none"/>
<circle cx="860.5" cy="103.6" r="3.45" fill="#e6e6e6" stroke="none"/>
<circle cx="863.1" cy="104.3" r="3.45" fill="#e6e6e6" stroke="none"/>
<circle cx="877.7" cy="101.6" r="3.45" fill="#e6e6e6" stroke="none"/>
<circle cx="858.7" cy="114.8" r="3.45" fill="#e6e6e6" stroke="none"/>
<circle cx="849.7" cy="117.6" r="3.45" fill="#e6e6e6" stroke="none"/>
<circle cx="860.5" cy="120.8" r="3.45" fill="#e6e6e6" stroke="none"/>
<circle cx="855.5" cy="124.6" r="3.45" fill="#e6e6e6" stroke="none"/>
<circle cx="835.5" cy="127.1" r="3.45" fill="#e6e6e6" stroke="none"/>
<circle cx="816.7" cy="130.1" r="3.45" fill="#e6e6e6" stroke="none"/>
<circle cx="849.7" cy="131.6" r="3.45" fill="#e6e6e6" stroke="none"/>
<circle cx="854.2" cy="129.6" r="3.45" fill="#e6e6e6" stroke="none"/>
<circle cx="840.0" cy="135.8" r="3.45" fill="#e6e6e6" stroke="none"/>
<circle cx="867.5" cy="126.6" r="3.45" fill="#ebe6c0" stroke="none"/>
<circle cx="833.2" cy="146.8" r="3.45" fill="#ece6a0" stroke="none"/>
<circle cx="911.2" cy="102.6" r="3.45" fill="#e6e6e6" stroke="none"/>
<circle cx="912.0" cy="107.6" r="3.45" fill="#e6e6e6" stroke="none"/>
<circle cx="925.2" cy="109.1" r="3.45" fill="#e6e6e6" stroke="none"/>
<circle cx="961.7" cy="113.6" r="3.3" fill="#e6e6e6" stroke="none"/>
<circle cx="909.5" cy="125.3" r="3.45" fill="#e6e6e6" stroke="none"/>
<circle cx="893.5" cy="129.8" r="3.45" fill="#e6e6e6" stroke="none"/>
<circle cx="898.7" cy="137.3" r="3.45" fill="#e6e6e6" stroke="none"/>
<circle cx="908.5" cy="146.8" r="3.45" fill="#e6e6e6" stroke="none"/>
<circle cx="954.7" cy="135.3" r="3.45" fill="#e6e6e6" stroke="none"/>
<circle cx="977.7" cy="130.1" r="3.45" fill="#e6e6e6" stroke="none"/>
<circle cx="989.5" cy="128.8" r="3.45" fill="#e6e6e6" stroke="none"/>
<circle cx="1012.7" cy="130.3" r="3.45" fill="#e6e6e6" stroke="none"/>
<circle cx="966.0" cy="144.8" r="3.45" fill="#e6e6e6" stroke="none"/>
<circle cx="969.7" cy="147.3" r="3.45" fill="#e6e6e6" stroke="none"/>
<circle cx="979.2" cy="147.5" r="3.45" fill="#ebe6c0" stroke="none"/>
<circle cx="1042.7" cy="137.6" r="3.45" fill="#e6e6e6" stroke="none"/>
<circle cx="828.5" cy="164.8" r="3.45" fill="#e6e6e6" stroke="none"/>
<circle cx="838.2" cy="177.8" r="3.45" fill="#e6e6e6" stroke="none"/>
<circle cx="829.7" cy="179.1" r="3.45" fill="#e6e6e6" stroke="none"/>
<circle cx="822.5" cy="185.8" r="3.45" fill="#e6e6e6" stroke="none"/>
<circle cx="832.2" cy="184.8" r="3.45" fill="#e6e6e6" stroke="none"/>
<circle cx="831.2" cy="189.4" r="3.45" fill="#ebe6c0" stroke="none"/>
<circle cx="825.7" cy="190.3" r="3.45" fill="#ece6a0" stroke="none"/>
<circle cx="828.5" cy="197.8" r="3.45" fill="#e6e6e6" stroke="none"/>
<circle cx="863.2" cy="194.8" r="3.45" fill="#e6e6e6" stroke="none"/>
<circle cx="890.2" cy="151.6" r="3.3" fill="#e6e6e6" stroke="none"/>
<circle cx="888.0" cy="165.3" r="3.45" fill="#e6e6e6" stroke="none"/>
<circle cx="881.2" cy="171.6" r="3.45" fill="#e6e6e6" stroke="none"/>
<circle cx="821.7" cy="204.3" r="3.45" fill="#ebe6c0" stroke="none"/>
<circle cx="815.5" cy="206.1" r="3.45" fill="#e6e6e6" stroke="none"/>
<circle cx="817.2" cy="210.3" r="3.45" fill="#e6e6e6" stroke="none"/>
<circle cx="824.0" cy="213.4" r="3.45" fill="#e6e6e6" stroke="none"/>
<circle cx="826.6" cy="215.5" r="3.45" fill="#e6e6e6" stroke="none"/>
<circle cx="806.2" cy="215.5" r="3.45" fill="#ece6a0" stroke="none"/>
<circle cx="810.9" cy="215.8" r="3.45" fill="#ece6a0" stroke="none"/>
<circle cx="817.0" cy="225.3" r="3.45" fill="#e6e6e6" stroke="none"/>
<circle cx="856.2" cy="228.3" r="3.45" fill="#e6e6e6" stroke="none"/>
<circle cx="781.5" cy="229.1" r="3.45" fill="#e6e6e6" stroke="none"/>
<circle cx="805.0" cy="232.9" r="3.45" fill="#e6e6e6" stroke="none"/>
<circle cx="806.7" cy="235.2" r="3.45" fill="#e6e6e6" stroke="none"/>
<circle cx="843.5" cy="237.1" r="3.45" fill="#e6e6e6" stroke="none"/>
<circle cx="860.0" cy="241.3" r="3.45" fill="#e6e6e6" stroke="none"/>
<circle cx="804.2" cy="243.1" r="3.45" fill="#e6e6e6" stroke="none"/>
<circle cx="847.0" cy="246.6" r="3.45" fill="#e6e6e6" stroke="none"/>
<circle cx="816.7" cy="249.3" r="3.3" fill="#e6e6e6" stroke="none"/>
<circle cx="791.2" cy="259.9" r="3.45" fill="#e6e6e6" stroke="none"/>
<circle cx="920.2" cy="154.6" r="3.45" fill="#e6e6e6" stroke="none"/>
<circle cx="897.0" cy="178.1" r="3.45" fill="#e6e6e6" stroke="none"/>
<circle cx="921.7" cy="175.1" r="3.45" fill="#e6e6e6" stroke="none"/>
<circle cx="940.0" cy="159.8" r="3.45" fill="#e6e6e6" stroke="none"/>
<circle cx="949.0" cy="173.1" r="3.45" fill="#e6e6e6" stroke="none"/>
<circle cx="952.5" cy="186.6" r="3.45" fill="#e6e6e6" stroke="none"/>
<circle cx="943.0" cy="189.8" r="3.45" fill="#e6e6e6" stroke="none"/>
<circle cx="932.5" cy="196.3" r="3.45" fill="#e6e6e6" stroke="none"/>
<circle cx="909.7" cy="199.3" r="3.45" fill="#e6e6e6" stroke="none"/>
<circle cx="918.5" cy="207.8" r="3.45" fill="#e6e6e6" stroke="none"/>
<circle cx="932.7" cy="223.3" r="3.45" fill="#e6e6e6" stroke="none"/>
<circle cx="939.0" cy="226.1" r="3.45" fill="#e6e6e6" stroke="none"/>
<circle cx="951.7" cy="224.3" r="3.45" fill="#e6e6e6" stroke="none"/>
<circle cx="934.2" cy="243.1" r="3.45" fill="#e6e6e6" stroke="none"/>
<circle cx="905.5" cy="249.3" r="3.45" fill="#e6e6e6" stroke="none"/>
<circle cx="963.7" cy="161.8" r="3.45" fill="#e6e6e6" stroke="none"/>
<circle cx="982.0" cy="163.1" r="3.3" fill="#e6e6e6" stroke="none"/>
<circle cx="991.2" cy="157.1" r="3.3" fill="#e6e6e6" stroke="none"/>
<circle cx="1012.4" cy="159.4" r="3.45" fill="#d4e6d0" stroke="none"/>
<circle cx="964.2" cy="180.3" r="3.45" fill="#e6e6e6" stroke="none"/>
<circle cx="969.2" cy="181.1" r="3.45" fill="#e6e6e6" stroke="none"/>
<circle cx="965.0" cy="191.6" r="3.3" fill="#e6e6e6" stroke="none"/>
<circle cx="970.0" cy="193.3" r="3.45" fill="#e6e6e6" stroke="none"/>
<circle cx="986.5" cy="204.1" r="3.45" fill="#e6e6e6" stroke="none"/>
<circle cx="982.5" cy="213.3" r="3.45" fill="#e6e6e6" stroke="none"/>
<circle cx="975.5" cy="249.2" r="3.45" fill="#e6e6e6" stroke="none"/>
<circle cx="1029.4" cy="212.1" r="3.45" fill="#e6e6e6" stroke="none"/>
<circle cx="1029.5" cy="249.9" r="3.45" fill="#e6e6e6" stroke="none"/>
<circle cx="1033.7" cy="185.3" r="3.45" fill="#e6e6e6" stroke="none"/>
<circle cx="1037.0" cy="191.8" r="3.45" fill="#e6e6e6" stroke="none"/>
<circle cx="1051.5" cy="182.8" r="3.45" fill="#d4e6d0" stroke="none"/>
<circle cx="1102.5" cy="180.3" r="3.45" fill="#e6e6e6" stroke="none"/>
<circle cx="1083.7" cy="200.3" r="3.45" fill="#e6e6e6" stroke="none"/>
<circle cx="1081.5" cy="207.1" r="3.3" fill="#e6e6e6" stroke="none"/>
<circle cx="1066.5" cy="227.8" r="3.45" fill="#e6e6e6" stroke="none"/>
<circle cx="1098.7" cy="244.6" r="3.45" fill="#d4e6d0" stroke="none"/>
<circle cx="798.7" cy="285.4" r="3.45" fill="#e6e6e6" stroke="none"/>
<circle cx="784.0" cy="287.9" r="3.45" fill="#e6e6e6" stroke="none"/>
<circle cx="774.0" cy="294.9" r="3.45" fill="#e6e6e6" stroke="none"/>
<circle cx="794.2" cy="294.6" r="3.45" fill="#e6e6e6" stroke="none"/>
<circle cx="796.7" cy="299.9" r="3.45" fill="#e6e6e6" stroke="none"/>
<circle cx="757.0" cy="303.9" r="3.45" fill="#e6e6e6" stroke="none"/>
<circle cx="820.5" cy="307.6" r="3.3" fill="#e6e6e6" stroke="none"/>
<circle cx="794.5" cy="316.6" r="3.45" fill="#e6e6e6" stroke="none"/>
<circle cx="853.5" cy="316.9" r="3.45" fill="#e6e6e6" stroke="none"/>
<circle cx="777.7" cy="348.1" r="3.45" fill="#e6e6e6" stroke="none"/>
<circle cx="896.5" cy="277.4" r="3.3" fill="#e6e6e6" stroke="none"/>
<circle cx="973.2" cy="277.4" r="3.45" fill="#e6e6e6" stroke="none"/>
<circle cx="974.5" cy="287.6" r="3.45" fill="#e6e6e6" stroke="none"/>
<circle cx="955.5" cy="292.4" r="3.3" fill="#e6e6e6" stroke="none"/>
<circle cx="960.5" cy="292.9" r="3.3" fill="#e6e6e6" stroke="none"/>
<circle cx="998.5" cy="338.2" r="3.45" fill="#e6e6e6" stroke="none"/>
<circle cx="1092.7" cy="280.4" r="3.45" fill="#e6e6e6" stroke="none"/>
<circle cx="1097.5" cy="291.1" r="3.45" fill="#e6e6e6" stroke="none"/>
<circle cx="1063.0" cy="318.1" r="3.45" fill="#e6e6e6" stroke="none"/>
<circle cx="1093.2" cy="323.4" r="3.45" fill="#e6e6e6" stroke="none"/>
<circle cx="1050.0" cy="336.9" r="3.45" fill="#e6e6e6" stroke="none"/>
<circle cx="1112.2" cy="347.2" r="3.45" fill="#e6e6e6" stroke="none"/>
<circle cx="1059.9" cy="367.0" r="3.3" fill="#e6e6e6" stroke="none"/>
<circle cx="1058.7" cy="375.4" r="3.3" fill="#e6e6e6" stroke="none"/>
<circle cx="1052.5" cy="393.4" r="3.45" fill="#e6e6e6" stroke="none"/>
<circle cx="1112.2" cy="394.1" r="3.45" fill="#e6e6e6" stroke="none"/>
<circle cx="789.5" cy="372.4" r="3.45" fill="#e6e6e6" stroke="none"/>
<circle cx="815.7" cy="374.9" r="3.45" fill="#e6e6e6" stroke="none"/>
<circle cx="754.7" cy="389.9" r="3.45" fill="#e6e6e6" stroke="none"/>
<circle cx="795.7" cy="389.4" r="3.45" fill="#e6e6e6" stroke="none"/>
<circle cx="802.0" cy="390.4" r="3.45" fill="#e6e6e6" stroke="none"/>
<circle cx="819.5" cy="389.6" r="3.3" fill="#e6e6e6" stroke="none"/>
<circle cx="784.7" cy="394.4" r="3.45" fill="#e6e6e6" stroke="none"/>
<circle cx="756.0" cy="399.2" r="3.45" fill="#e6e6e6" stroke="none"/>
<circle cx="830.0" cy="396.9" r="3.45" fill="#e6e6e6" stroke="none"/></g>
</g>
<circle cx="1072.5" cy="385" r="2.6" fill="#000"/>
<text x="1083.2" y="390">AQS</text>
<rect x="628.6" y="28.6" width="484.8" height="370.85" fill="none" stroke="#000" stroke-opacity="0.72" stroke-width="1" stroke-linejoin="round"/>
<line x1="645.5" y1="399.45" x2="1106" y2="399.45" stroke="#000"/>
<line x1="628.7" y1="39.5" x2="628.7" y2="394.5" stroke="#000"/>
<line x1="645.5" y1="399.45" x2="645.5" y2="407" stroke="#000" stroke-opacity="0.9"/>
<text x="644.8" y="425.8" text-anchor="middle">-124</text>
<line x1="701.5" y1="399.45" x2="701.5" y2="407" stroke="#000" stroke-opacity="0.9"/>
<text x="700.8" y="425.8" text-anchor="middle">-122</text>
<line x1="758.5" y1="399.45" x2="758.5" y2="407" stroke="#000" stroke-opacity="0.9"/>
<text x="757.8" y="425.8" text-anchor="middle">-120</text>
<line x1="815.9" y1="399.45" x2="815.9" y2="407" stroke="#000" stroke-opacity="0.9"/>
<text x="815.1999999999999" y="425.8" text-anchor="middle">-118</text>
<line x1="873.7" y1="399.45" x2="873.7" y2="407" stroke="#000" stroke-opacity="0.9"/>
<text x="873.0" y="425.8" text-anchor="middle">-116</text>
<line x1="931.5" y1="399.45" x2="931.5" y2="407" stroke="#000" stroke-opacity="0.9"/>
<text x="930.8" y="425.8" text-anchor="middle">-114</text>
<line x1="989.5" y1="399.45" x2="989.5" y2="407" stroke="#000" stroke-opacity="0.9"/>
<text x="988.8" y="425.8" text-anchor="middle">-112</text>
<line x1="1047.6" y1="399.45" x2="1047.6" y2="407" stroke="#000" stroke-opacity="0.9"/>
<text x="1046.8999999999999" y="425.8" text-anchor="middle">-110</text>
<line x1="1106" y1="399.45" x2="1106" y2="407" stroke="#000" stroke-opacity="0.9"/>
<text x="1105.3" y="425.8" text-anchor="middle">-108</text>
<line x1="621.3" y1="39.5" x2="628.6" y2="39.5" stroke="#000" stroke-opacity="0.9"/>
<text transform="translate(611.6,39.5) rotate(-90)" text-anchor="middle">52</text>
<line x1="621.3" y1="111.5" x2="628.6" y2="111.5" stroke="#000" stroke-opacity="0.9"/>
<text transform="translate(611.6,111.5) rotate(-90)" text-anchor="middle">50</text>
<line x1="621.3" y1="182.5" x2="628.6" y2="182.5" stroke="#000" stroke-opacity="0.9"/>
<text transform="translate(611.6,182.5) rotate(-90)" text-anchor="middle">48</text>
<line x1="621.3" y1="253.5" x2="628.6" y2="253.5" stroke="#000" stroke-opacity="0.9"/>
<text transform="translate(611.6,253.5) rotate(-90)" text-anchor="middle">46</text>
<line x1="621.3" y1="324.4" x2="628.6" y2="324.4" stroke="#000" stroke-opacity="0.9"/>
<text transform="translate(611.6,324.4) rotate(-90)" text-anchor="middle">44</text>
<line x1="621.3" y1="394.5" x2="628.6" y2="394.5" stroke="#000" stroke-opacity="0.9"/>
<text transform="translate(611.6,394.5) rotate(-90)" text-anchor="middle">42</text>
<rect x="1145.7" y="375.44" width="7.8" height="6.01" fill="#612093"/>
<rect x="1145.7" y="369.69" width="7.8" height="6.01" fill="#682099"/>
<rect x="1145.7" y="363.93" width="7.8" height="6.01" fill="#6e209e"/>
<rect x="1145.7" y="358.17" width="7.8" height="6.01" fill="#7b20af"/>
<rect x="1145.7" y="352.42" width="7.8" height="6.01" fill="#8a20c4"/>
<rect x="1145.7" y="346.66" width="7.8" height="6.01" fill="#9820d8"/>
<rect x="1145.7" y="340.90" width="7.8" height="6.01" fill="#9121e5"/>
<rect x="1145.7" y="335.14" width="7.8" height="6.01" fill="#6f23e9"/>
<rect x="1145.7" y="329.39" width="7.8" height="6.01" fill="#4c29ed"/>
<rect x="1145.7" y="323.63" width="7.8" height="6.01" fill="#2931f2"/>
<rect x="1145.7" y="317.87" width="7.8" height="6.01" fill="#1439f1"/>
<rect x="1145.7" y="312.12" width="7.8" height="6.01" fill="#0a44e6"/>
<rect x="1145.7" y="306.36" width="7.8" height="6.01" fill="#0a52d3"/>
<rect x="1145.7" y="300.60" width="7.8" height="6.01" fill="#0a60c2"/>
<rect x="1145.7" y="294.85" width="7.8" height="6.01" fill="#0a6fb2"/>
<rect x="1145.7" y="289.09" width="7.8" height="6.01" fill="#0a7ba2"/>
<rect x="1145.7" y="283.33" width="7.8" height="6.01" fill="#0a8893"/>
<rect x="1145.7" y="277.58" width="7.8" height="6.01" fill="#0a8f86"/>
<rect x="1145.7" y="271.82" width="7.8" height="6.01" fill="#0a9679"/>
<rect x="1145.7" y="266.06" width="7.8" height="6.01" fill="#129d72"/>
<rect x="1145.7" y="260.31" width="7.8" height="6.01" fill="#25a671"/>
<rect x="1145.7" y="254.55" width="7.8" height="6.01" fill="#38ae70"/>
<rect x="1145.7" y="248.79" width="7.8" height="6.01" fill="#50b874"/>
<rect x="1145.7" y="243.03" width="7.8" height="6.01" fill="#6cc47c"/>
<rect x="1145.7" y="237.28" width="7.8" height="6.01" fill="#88d088"/>
<rect x="1145.7" y="231.52" width="7.8" height="6.01" fill="#a4d8a0"/>
<rect x="1145.7" y="225.76" width="7.8" height="6.01" fill="#bfe0bc"/>
<rect x="1145.7" y="220.01" width="7.8" height="6.01" fill="#d4e6d0"/>
<rect x="1145.7" y="214.25" width="7.8" height="6.01" fill="#e6e6e6"/>
<rect x="1145.7" y="208.49" width="7.8" height="6.01" fill="#e6e6e6"/>
<rect x="1145.7" y="202.74" width="7.8" height="6.01" fill="#ebe6c0"/>
<rect x="1145.7" y="196.98" width="7.8" height="6.01" fill="#ece6a0"/>
<rect x="1145.7" y="191.22" width="7.8" height="6.01" fill="#ede680"/>
<rect x="1145.7" y="185.47" width="7.8" height="6.01" fill="#f0e458"/>
<rect x="1145.7" y="179.71" width="7.8" height="6.01" fill="#f0dc38"/>
<rect x="1145.7" y="173.95" width="7.8" height="6.01" fill="#f0cc28"/>
<rect x="1145.7" y="168.19" width="7.8" height="6.01" fill="#f0c222"/>
<rect x="1145.7" y="162.44" width="7.8" height="6.01" fill="#edb41a"/>
<rect x="1145.7" y="156.68" width="7.8" height="6.01" fill="#e9a613"/>
<rect x="1145.7" y="150.92" width="7.8" height="6.01" fill="#e6990e"/>
<rect x="1145.7" y="145.17" width="7.8" height="6.01" fill="#e48d0c"/>
<rect x="1145.7" y="139.41" width="7.8" height="6.01" fill="#e18009"/>
<rect x="1145.7" y="133.65" width="7.8" height="6.01" fill="#de7308"/>
<rect x="1145.7" y="127.90" width="7.8" height="6.01" fill="#da6608"/>
<rect x="1145.7" y="122.14" width="7.8" height="6.01" fill="#d6631d"/>
<rect x="1145.7" y="116.38" width="7.8" height="6.01" fill="#d36944"/>
<rect x="1145.7" y="110.63" width="7.8" height="6.01" fill="#d07075"/>
<rect x="1145.7" y="104.87" width="7.8" height="6.01" fill="#cc77ab"/>
<rect x="1145.7" y="99.11" width="7.8" height="6.01" fill="#d8628c"/>
<rect x="1145.7" y="93.36" width="7.8" height="6.01" fill="#e44968"/>
<rect x="1145.7" y="87.60" width="7.8" height="6.01" fill="#f02c3f"/>
<rect x="1145.7" y="81.84" width="7.8" height="6.01" fill="#fe0405"/>
<rect x="1145.7" y="76.08" width="7.8" height="6.01" fill="#fa0505"/>
<rect x="1145.7" y="70.33" width="7.8" height="6.01" fill="#ed0d0d"/>
<rect x="1145.7" y="64.57" width="7.8" height="6.01" fill="#d81616"/>
<rect x="1145.7" y="58.81" width="7.8" height="6.01" fill="#c71d1d"/>
<rect x="1145.7" y="53.06" width="7.8" height="6.01" fill="#b72424"/>
<rect x="1145.7" y="47.30" width="7.8" height="6.01" fill="#ab2828"/>
<rect x="1145.7" y="47.3" width="7.8" height="333.9" fill="none" stroke="#000" stroke-width="0.9" stroke-opacity="0.55"/>
<line x1="1153.5" y1="50.5" x2="1153.5" y2="378.3" stroke="#000" stroke-width="1"/>
<line x1="1153.5" y1="50.5" x2="1160.8" y2="50.5" stroke="#000"/>
<text x="1168" y="54.8">14000</text>
<line x1="1153.5" y1="101.4" x2="1160.8" y2="101.4" stroke="#000"/>
<text x="1168" y="105.7">100</text>
<line x1="1153.5" y1="157.5" x2="1160.8" y2="157.5" stroke="#000"/>
<text x="1168" y="161.8">50</text>
<line x1="1153.5" y1="214" x2="1160.8" y2="214" stroke="#000"/>
<text x="1168" y="218.3">0</text>
<line x1="1153.5" y1="270.7" x2="1160.8" y2="270.7" stroke="#000"/>
<text x="1168" y="275.0">-50</text>
<line x1="1153.5" y1="327.2" x2="1160.8" y2="327.2" stroke="#000"/>
<text x="1168" y="331.5">-100</text>
<line x1="1153.5" y1="378.3" x2="1160.8" y2="378.3" stroke="#000"/>
<text x="1168" y="382.6">-500</text>
<text x="1150" y="44.2" text-anchor="middle">ug/m3</text>
<text class="ttl" x="871" y="20" text-anchor="middle">EMBER bias: ATOTIJ_AVG on 05/02/2021</text>
<text x="871" y="447.4" text-anchor="middle" xml:space="preserve" style="white-space:pre">Bias Summary: [ min, 25th %, 50th %, 75th %, max ]</text>
<text x="892.5" y="461.7" text-anchor="middle" xml:space="preserve" style="white-space:pre">[ -6.8,   -1.7,   -0.4,   1.1,   11 ]</text>
</svg>
</body></html>
